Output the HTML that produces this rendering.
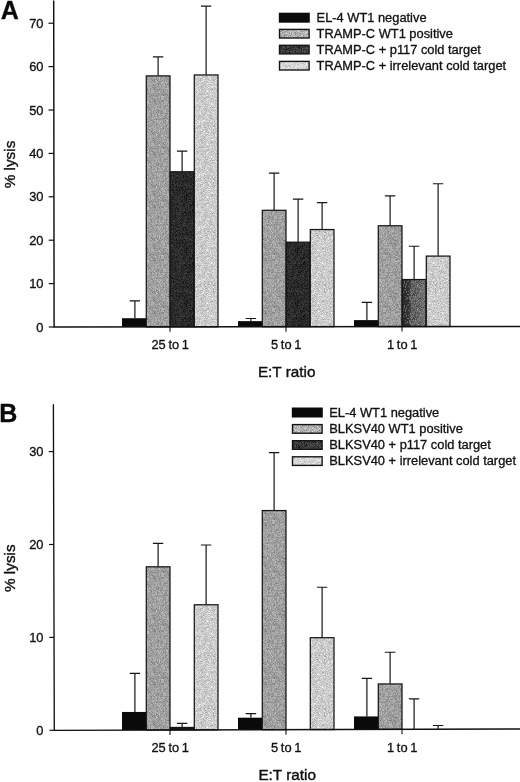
<!DOCTYPE html><html><head><meta charset="utf-8"><title>Figure</title><style>
html,body{margin:0;padding:0;background:#fff}body{width:520px;height:782px;overflow:hidden}svg{display:block;filter:grayscale(1)}
.t{font-family:"Liberation Sans",sans-serif;font-size:12.85px;fill:#111;stroke:#111;stroke-width:0.32px}
.l{font-family:"Liberation Sans",sans-serif;font-size:12.85px;fill:#111;stroke:#111;stroke-width:0.32px}
.ax{font-family:"Liberation Sans",sans-serif;font-size:15.3px;fill:#111;stroke:#111;stroke-width:0.4px}
.p{font-family:"Liberation Sans",sans-serif;font-size:25px;font-weight:bold;fill:#0a0a0a;stroke:#0a0a0a;stroke-width:0.3px}
</style></head><body>
<svg width="520" height="782" viewBox="0 0 520 782">
<defs>
<pattern id="pMid" width="37" height="53" patternUnits="userSpaceOnUse" ><rect width="37" height="53" fill="#9f9f9f"/><path stroke="#797979" d="M36 1.5h1M32 3.5h1M10 4.5h1M23 4.5h1M8 6.5h1M23 7.5h1M29 7.5h1M3 8.5h1M33 8.5h1M25 9.5h1M21 10.5h1M8 13.5h1M3 14.5h1M18 19.5h1M30 19.5h1M33 20.5h1M30 22.5h1M17 24.5h1M3 25.5h1M8 25.5h1M34 25.5h1M4 27.5h1M9 27.5h1M14 27.5h1M23 27.5h1M25 28.5h1M34 28.5h1M10 31.5h1M20 31.5h1M22 33.5h1M36 36.5h1M27 40.5h1M15 41.5h1M15 42.5h1M31 43.5h1M6 47.5h1M15 47.5h1M7 48.5h1M11 48.5h1"/><path stroke="#868686" d="M12 0.5h1M16 0.5h1M17 0.5h1M6 1.5h1M9 1.5h1M15 1.5h1M22 1.5h1M26 1.5h1M30 1.5h1M31 1.5h1M35 1.5h1M12 2.5h1M16 2.5h1M19 2.5h1M22 2.5h1M1 3.5h1M8 3.5h1M18 4.5h1M25 4.5h1M27 4.5h1M9 5.5h1M10 5.5h1M14 5.5h1M27 5.5h1M10 6.5h1M24 6.5h1M26 6.5h1M2 7.5h1M5 7.5h1M13 7.5h1M19 7.5h1M26 7.5h1M9 8.5h1M3 9.5h1M9 9.5h1M18 9.5h1M9 10.5h1M16 10.5h1M25 10.5h1M32 11.5h1M34 11.5h1M3 12.5h1M9 12.5h1M12 12.5h1M15 12.5h1M16 12.5h1M19 12.5h1M26 12.5h1M33 12.5h1M11 13.5h1M14 13.5h1M26 13.5h1M17 15.5h1M21 15.5h1M22 15.5h1M30 15.5h1M15 16.5h1M24 16.5h1M36 16.5h1M17 17.5h1M20 17.5h1M25 17.5h1M30 17.5h1M8 18.5h1M26 18.5h1M31 18.5h1M2 19.5h1M18 20.5h1M24 20.5h1M22 21.5h1M24 21.5h1M0 22.5h1M3 22.5h1M15 22.5h1M35 22.5h1M1 23.5h1M4 23.5h1M24 24.5h1M26 24.5h1M32 24.5h1M33 24.5h1M23 25.5h1M10 26.5h1M19 26.5h1M33 26.5h1M6 27.5h1M34 27.5h1M6 28.5h1M24 28.5h1M26 28.5h1M20 29.5h1M8 30.5h1M17 30.5h1M31 30.5h1M19 31.5h1M21 31.5h1M24 31.5h1M25 31.5h1M5 32.5h1M7 32.5h1M13 32.5h1M23 32.5h1M25 32.5h1M9 33.5h1M25 33.5h1M5 34.5h1M18 34.5h1M22 34.5h1M25 34.5h1M31 34.5h1M35 34.5h1M6 35.5h1M31 35.5h1M2 36.5h1M6 36.5h1M11 36.5h1M13 36.5h1M23 36.5h1M31 36.5h1M9 37.5h1M11 37.5h1M15 37.5h1M19 37.5h1M29 37.5h1M7 38.5h1M8 38.5h1M15 38.5h1M34 38.5h1M25 39.5h1M28 39.5h1M30 39.5h1M33 39.5h1M35 39.5h1M10 40.5h1M14 40.5h1M17 40.5h1M28 40.5h1M35 40.5h1M3 41.5h1M18 41.5h1M24 41.5h1M36 41.5h1M5 42.5h1M19 42.5h1M26 42.5h1M27 42.5h1M1 43.5h1M2 43.5h1M26 43.5h1M12 44.5h1M20 44.5h1M29 44.5h1M36 44.5h1M3 45.5h1M4 45.5h1M12 45.5h1M16 45.5h1M20 45.5h1M22 45.5h1M25 45.5h1M6 46.5h1M10 46.5h1M13 47.5h1M25 47.5h1M26 47.5h1M5 48.5h1M6 48.5h1M14 48.5h1M33 48.5h1M35 49.5h1M8 51.5h1M28 51.5h1M30 52.5h1"/><path stroke="#929292" d="M4 0.5h1M18 0.5h1M19 0.5h1M23 0.5h1M26 0.5h1M30 0.5h1M31 0.5h1M36 0.5h1M0 1.5h1M1 1.5h1M3 1.5h1M12 1.5h1M24 1.5h1M25 1.5h1M27 1.5h1M28 1.5h1M1 2.5h1M2 2.5h1M17 2.5h1M30 2.5h1M34 2.5h1M0 3.5h1M6 3.5h1M9 3.5h1M25 3.5h1M33 3.5h1M0 4.5h1M3 4.5h1M6 4.5h1M11 4.5h1M13 4.5h1M2 5.5h1M12 5.5h1M13 5.5h1M18 5.5h1M20 5.5h1M23 5.5h1M30 5.5h1M34 5.5h1M2 6.5h1M13 6.5h1M22 6.5h1M25 6.5h1M28 6.5h1M32 6.5h1M3 7.5h1M6 7.5h1M12 7.5h1M14 7.5h1M16 7.5h1M17 7.5h1M18 7.5h1M21 7.5h1M25 7.5h1M30 7.5h1M32 7.5h1M7 8.5h1M12 8.5h1M18 8.5h1M24 8.5h1M28 8.5h1M29 8.5h1M6 9.5h1M10 9.5h1M14 9.5h1M17 9.5h1M23 9.5h1M26 9.5h1M29 9.5h1M1 10.5h1M2 10.5h1M15 10.5h1M18 10.5h1M20 10.5h1M22 10.5h1M26 10.5h1M0 11.5h1M17 11.5h1M29 11.5h1M30 11.5h1M33 11.5h1M35 11.5h1M7 12.5h1M17 12.5h1M18 12.5h1M27 12.5h1M28 12.5h1M29 12.5h1M34 12.5h1M2 13.5h1M6 13.5h1M9 13.5h1M20 13.5h1M25 13.5h1M28 13.5h1M29 13.5h1M31 13.5h1M4 14.5h1M15 14.5h1M17 14.5h1M24 14.5h1M28 14.5h1M33 14.5h1M35 14.5h1M0 15.5h1M1 15.5h1M5 15.5h1M11 15.5h1M15 15.5h1M20 15.5h1M24 15.5h1M28 15.5h1M35 15.5h1M0 16.5h1M4 16.5h1M5 16.5h1M6 16.5h1M12 16.5h1M16 16.5h1M25 16.5h1M27 16.5h1M28 16.5h1M30 16.5h1M2 17.5h1M5 17.5h1M8 17.5h1M14 17.5h1M28 17.5h1M29 17.5h1M31 17.5h1M0 18.5h1M1 18.5h1M4 18.5h1M5 18.5h1M10 18.5h1M19 18.5h1M28 18.5h1M30 18.5h1M34 18.5h1M0 19.5h1M3 19.5h1M8 19.5h1M11 19.5h1M13 19.5h1M17 19.5h1M28 19.5h1M0 20.5h1M1 20.5h1M2 20.5h1M12 20.5h1M15 20.5h1M34 20.5h1M8 21.5h1M14 21.5h1M15 21.5h1M17 21.5h1M25 21.5h1M26 21.5h1M9 22.5h1M12 22.5h1M13 22.5h1M17 22.5h1M19 22.5h1M20 22.5h1M23 22.5h1M28 22.5h1M29 22.5h1M32 22.5h1M14 23.5h1M19 23.5h1M20 23.5h1M28 23.5h1M32 23.5h1M36 23.5h1M2 24.5h1M8 24.5h1M10 24.5h1M12 24.5h1M14 24.5h1M18 24.5h1M21 24.5h1M28 24.5h1M36 24.5h1M12 25.5h1M16 25.5h1M18 25.5h1M20 25.5h1M22 25.5h1M26 25.5h1M29 25.5h1M3 26.5h1M4 26.5h1M5 26.5h1M6 26.5h1M7 26.5h1M8 26.5h1M12 26.5h1M16 26.5h1M20 26.5h1M22 26.5h1M36 26.5h1M18 27.5h1M20 27.5h1M22 27.5h1M27 27.5h1M33 27.5h1M2 28.5h1M3 28.5h1M5 28.5h1M7 28.5h1M10 28.5h1M11 28.5h1M13 28.5h1M16 28.5h1M18 28.5h1M23 28.5h1M27 28.5h1M32 28.5h1M33 28.5h1M9 29.5h1M11 29.5h1M12 29.5h1M21 29.5h1M25 29.5h1M27 29.5h1M28 29.5h1M30 29.5h1M35 29.5h1M11 30.5h1M21 30.5h1M23 30.5h1M28 30.5h1M30 30.5h1M33 30.5h1M34 30.5h1M0 31.5h1M12 31.5h1M14 31.5h1M17 31.5h1M18 31.5h1M23 31.5h1M27 31.5h1M4 32.5h1M6 32.5h1M10 32.5h1M17 32.5h1M24 32.5h1M26 32.5h1M27 32.5h1M31 32.5h1M32 32.5h1M1 33.5h1M6 33.5h1M11 33.5h1M13 33.5h1M18 33.5h1M29 33.5h1M36 33.5h1M4 34.5h1M6 34.5h1M7 34.5h1M8 34.5h1M17 34.5h1M26 34.5h1M30 34.5h1M2 35.5h1M5 35.5h1M11 35.5h1M24 35.5h1M34 35.5h1M35 35.5h1M36 35.5h1M5 36.5h1M7 36.5h1M8 36.5h1M15 36.5h1M16 36.5h1M17 36.5h1M18 36.5h1M24 36.5h1M25 36.5h1M26 36.5h1M28 36.5h1M29 36.5h1M30 36.5h1M35 36.5h1M6 37.5h1M14 37.5h1M31 37.5h1M36 37.5h1M2 38.5h1M12 38.5h1M16 38.5h1M18 38.5h1M21 38.5h1M23 38.5h1M24 38.5h1M26 38.5h1M36 38.5h1M0 39.5h1M2 39.5h1M6 39.5h1M13 39.5h1M14 39.5h1M22 39.5h1M26 39.5h1M27 39.5h1M0 40.5h1M6 40.5h1M8 40.5h1M11 40.5h1M16 40.5h1M18 40.5h1M22 40.5h1M23 40.5h1M26 40.5h1M30 40.5h1M36 40.5h1M1 41.5h1M7 41.5h1M10 41.5h1M12 41.5h1M13 41.5h1M17 41.5h1M19 41.5h1M23 41.5h1M28 41.5h1M34 41.5h1M35 41.5h1M1 42.5h1M2 42.5h1M3 42.5h1M4 42.5h1M7 42.5h1M8 42.5h1M9 42.5h1M11 42.5h1M16 42.5h1M17 42.5h1M20 42.5h1M24 42.5h1M33 42.5h1M35 42.5h1M7 43.5h1M8 43.5h1M20 43.5h1M22 43.5h1M25 43.5h1M29 43.5h1M30 43.5h1M4 44.5h1M10 44.5h1M16 44.5h1M18 44.5h1M19 44.5h1M23 44.5h1M24 44.5h1M28 44.5h1M30 44.5h1M34 44.5h1M35 44.5h1M1 45.5h1M6 45.5h1M9 45.5h1M17 45.5h1M21 45.5h1M26 45.5h1M31 45.5h1M32 45.5h1M33 45.5h1M1 46.5h1M5 46.5h1M7 46.5h1M9 46.5h1M16 46.5h1M18 46.5h1M27 46.5h1M28 46.5h1M29 46.5h1M35 46.5h1M36 46.5h1M2 47.5h1M4 47.5h1M14 47.5h1M19 47.5h1M20 47.5h1M27 47.5h1M28 47.5h1M29 47.5h1M32 47.5h1M1 48.5h1M13 48.5h1M15 48.5h1M20 48.5h1M27 48.5h1M2 49.5h1M3 49.5h1M6 49.5h1M12 49.5h1M20 49.5h1M23 49.5h1M30 49.5h1M31 49.5h1M7 50.5h1M11 50.5h1M15 50.5h1M20 50.5h1M25 50.5h1M28 50.5h1M29 50.5h1M32 50.5h1M33 50.5h1M35 50.5h1M2 51.5h1M6 51.5h1M12 51.5h1M14 51.5h1M19 51.5h1M23 51.5h1M29 51.5h1M31 51.5h1M0 52.5h1M13 52.5h1M16 52.5h1M17 52.5h1M19 52.5h1M21 52.5h1M24 52.5h1M28 52.5h1M31 52.5h1M35 52.5h1"/><path stroke="#ababab" d="M1 0.5h1M6 0.5h1M7 0.5h1M8 0.5h1M13 0.5h1M14 0.5h1M15 0.5h1M22 0.5h1M28 0.5h1M29 0.5h1M34 0.5h1M2 1.5h1M5 1.5h1M13 1.5h1M16 1.5h1M17 1.5h1M18 1.5h1M23 1.5h1M34 1.5h1M3 2.5h1M4 2.5h1M7 2.5h1M9 2.5h1M10 2.5h1M11 2.5h1M14 2.5h1M15 2.5h1M18 2.5h1M21 2.5h1M24 2.5h1M27 2.5h1M29 2.5h1M32 2.5h1M35 2.5h1M10 3.5h1M11 3.5h1M12 3.5h1M16 3.5h1M19 3.5h1M21 3.5h1M22 3.5h1M28 3.5h1M1 4.5h1M12 4.5h1M15 4.5h1M16 4.5h1M21 4.5h1M22 4.5h1M24 4.5h1M26 4.5h1M29 4.5h1M32 4.5h1M36 4.5h1M3 5.5h1M6 5.5h1M8 5.5h1M11 5.5h1M16 5.5h1M21 5.5h1M25 5.5h1M35 5.5h1M3 6.5h1M11 6.5h1M15 6.5h1M19 6.5h1M23 6.5h1M27 6.5h1M36 6.5h1M0 7.5h1M4 7.5h1M7 7.5h1M8 7.5h1M10 7.5h1M15 7.5h1M27 7.5h1M33 7.5h1M34 7.5h1M35 7.5h1M1 8.5h1M2 8.5h1M4 8.5h1M10 8.5h1M13 8.5h1M16 8.5h1M17 8.5h1M21 8.5h1M26 8.5h1M31 8.5h1M32 8.5h1M34 8.5h1M35 8.5h1M0 9.5h1M2 9.5h1M4 9.5h1M16 9.5h1M20 9.5h1M22 9.5h1M28 9.5h1M31 9.5h1M33 9.5h1M36 9.5h1M10 10.5h1M11 10.5h1M12 10.5h1M14 10.5h1M19 10.5h1M27 10.5h1M28 10.5h1M31 10.5h1M33 10.5h1M35 10.5h1M36 10.5h1M2 11.5h1M4 11.5h1M5 11.5h1M6 11.5h1M9 11.5h1M14 11.5h1M15 11.5h1M20 11.5h1M21 11.5h1M23 11.5h1M24 11.5h1M28 11.5h1M36 11.5h1M0 12.5h1M5 12.5h1M6 12.5h1M10 12.5h1M11 12.5h1M14 12.5h1M22 12.5h1M23 12.5h1M25 12.5h1M32 12.5h1M3 13.5h1M17 13.5h1M18 13.5h1M23 13.5h1M33 13.5h1M0 14.5h1M2 14.5h1M6 14.5h1M10 14.5h1M11 14.5h1M12 14.5h1M14 14.5h1M16 14.5h1M22 14.5h1M26 14.5h1M27 14.5h1M36 14.5h1M2 15.5h1M6 15.5h1M10 15.5h1M14 15.5h1M23 15.5h1M33 15.5h1M2 16.5h1M9 16.5h1M10 16.5h1M23 16.5h1M29 16.5h1M31 16.5h1M32 16.5h1M34 16.5h1M1 17.5h1M4 17.5h1M6 17.5h1M13 17.5h1M19 17.5h1M21 17.5h1M23 17.5h1M34 17.5h1M2 18.5h1M3 18.5h1M11 18.5h1M15 18.5h1M18 18.5h1M21 18.5h1M35 18.5h1M1 19.5h1M5 19.5h1M16 19.5h1M19 19.5h1M20 19.5h1M21 19.5h1M25 19.5h1M31 19.5h1M33 19.5h1M3 20.5h1M7 20.5h1M8 20.5h1M10 20.5h1M14 20.5h1M16 20.5h1M21 20.5h1M25 20.5h1M30 20.5h1M35 20.5h1M4 21.5h1M7 21.5h1M12 21.5h1M16 21.5h1M18 21.5h1M19 21.5h1M21 21.5h1M23 21.5h1M28 21.5h1M31 21.5h1M35 21.5h1M5 22.5h1M6 22.5h1M7 22.5h1M11 22.5h1M18 22.5h1M25 22.5h1M26 22.5h1M34 22.5h1M36 22.5h1M3 23.5h1M5 23.5h1M7 23.5h1M8 23.5h1M11 23.5h1M13 23.5h1M17 23.5h1M22 23.5h1M23 23.5h1M24 23.5h1M29 23.5h1M34 23.5h1M0 24.5h1M3 24.5h1M6 24.5h1M9 24.5h1M13 24.5h1M15 24.5h1M19 24.5h1M25 24.5h1M27 24.5h1M34 24.5h1M35 24.5h1M0 25.5h1M1 25.5h1M2 25.5h1M5 25.5h1M6 25.5h1M7 25.5h1M10 25.5h1M15 25.5h1M17 25.5h1M24 25.5h1M28 25.5h1M31 25.5h1M32 25.5h1M35 25.5h1M9 26.5h1M11 26.5h1M24 26.5h1M25 26.5h1M26 26.5h1M27 26.5h1M1 27.5h1M7 27.5h1M11 27.5h1M13 27.5h1M15 27.5h1M19 27.5h1M26 27.5h1M29 27.5h1M31 27.5h1M35 27.5h1M0 28.5h1M1 28.5h1M4 28.5h1M30 28.5h1M36 28.5h1M0 29.5h1M3 29.5h1M5 29.5h1M6 29.5h1M16 29.5h1M17 29.5h1M18 29.5h1M19 29.5h1M22 29.5h1M33 29.5h1M1 30.5h1M4 30.5h1M6 30.5h1M13 30.5h1M15 30.5h1M25 30.5h1M3 31.5h1M8 31.5h1M13 31.5h1M26 31.5h1M32 31.5h1M1 32.5h1M8 32.5h1M9 32.5h1M12 32.5h1M15 32.5h1M18 32.5h1M19 32.5h1M22 32.5h1M33 32.5h1M34 32.5h1M2 33.5h1M3 33.5h1M5 33.5h1M7 33.5h1M10 33.5h1M19 33.5h1M23 33.5h1M27 33.5h1M28 33.5h1M34 33.5h1M0 34.5h1M1 34.5h1M3 34.5h1M9 34.5h1M15 34.5h1M16 34.5h1M21 34.5h1M27 34.5h1M28 34.5h1M32 34.5h1M33 34.5h1M36 34.5h1M0 35.5h1M1 35.5h1M4 35.5h1M8 35.5h1M10 35.5h1M14 35.5h1M19 35.5h1M20 35.5h1M25 35.5h1M27 35.5h1M28 35.5h1M32 35.5h1M0 36.5h1M1 36.5h1M3 36.5h1M4 36.5h1M14 36.5h1M20 36.5h1M21 36.5h1M27 36.5h1M32 36.5h1M1 37.5h1M3 37.5h1M5 37.5h1M7 37.5h1M8 37.5h1M13 37.5h1M20 37.5h1M26 37.5h1M27 37.5h1M30 37.5h1M32 37.5h1M35 37.5h1M3 38.5h1M4 38.5h1M6 38.5h1M13 38.5h1M14 38.5h1M20 38.5h1M22 38.5h1M25 38.5h1M31 38.5h1M33 38.5h1M35 38.5h1M4 39.5h1M7 39.5h1M15 39.5h1M20 39.5h1M23 39.5h1M29 39.5h1M31 39.5h1M36 39.5h1M3 40.5h1M19 40.5h1M2 41.5h1M6 41.5h1M8 41.5h1M11 41.5h1M20 41.5h1M27 41.5h1M29 41.5h1M31 41.5h1M33 41.5h1M0 42.5h1M18 42.5h1M23 42.5h1M25 42.5h1M28 42.5h1M29 42.5h1M30 42.5h1M32 42.5h1M34 42.5h1M36 42.5h1M3 43.5h1M16 43.5h1M24 43.5h1M32 43.5h1M6 44.5h1M11 44.5h1M13 44.5h1M14 44.5h1M17 44.5h1M21 44.5h1M27 44.5h1M31 44.5h1M0 45.5h1M2 45.5h1M7 45.5h1M10 45.5h1M11 45.5h1M14 45.5h1M15 45.5h1M19 45.5h1M27 45.5h1M29 45.5h1M3 46.5h1M8 46.5h1M13 46.5h1M14 46.5h1M17 46.5h1M19 46.5h1M22 46.5h1M24 46.5h1M25 46.5h1M33 46.5h1M34 46.5h1M5 47.5h1M10 47.5h1M16 47.5h1M36 47.5h1M8 48.5h1M16 48.5h1M17 48.5h1M19 48.5h1M23 48.5h1M29 48.5h1M30 48.5h1M34 48.5h1M35 48.5h1M1 49.5h1M5 49.5h1M13 49.5h1M16 49.5h1M17 49.5h1M18 49.5h1M19 49.5h1M21 49.5h1M22 49.5h1M28 49.5h1M34 49.5h1M2 50.5h1M3 50.5h1M14 50.5h1M16 50.5h1M17 50.5h1M18 50.5h1M22 50.5h1M31 50.5h1M34 50.5h1M7 51.5h1M11 51.5h1M13 51.5h1M15 51.5h1M18 51.5h1M20 51.5h1M21 51.5h1M25 51.5h1M26 51.5h1M27 51.5h1M32 51.5h1M34 51.5h1M35 51.5h1M4 52.5h1M7 52.5h1M10 52.5h1M20 52.5h1M22 52.5h1M27 52.5h1M32 52.5h1M33 52.5h1M36 52.5h1"/><path stroke="#b8b8b8" d="M27 0.5h1M8 1.5h1M19 1.5h1M29 1.5h1M33 1.5h1M8 2.5h1M13 2.5h1M23 2.5h1M36 2.5h1M5 3.5h1M7 3.5h1M23 3.5h1M31 3.5h1M17 4.5h1M35 4.5h1M15 5.5h1M17 5.5h1M22 5.5h1M24 5.5h1M28 5.5h1M33 5.5h1M36 5.5h1M0 6.5h1M6 6.5h1M17 6.5h1M20 6.5h1M21 6.5h1M34 6.5h1M0 8.5h1M5 8.5h1M8 8.5h1M14 8.5h1M36 8.5h1M7 9.5h1M8 9.5h1M19 9.5h1M21 9.5h1M23 10.5h1M30 10.5h1M34 10.5h1M4 12.5h1M24 12.5h1M9 14.5h1M29 14.5h1M30 14.5h1M34 14.5h1M3 15.5h1M9 15.5h1M18 15.5h1M19 15.5h1M1 16.5h1M7 17.5h1M11 17.5h1M18 17.5h1M27 17.5h1M33 17.5h1M16 18.5h1M22 18.5h1M10 19.5h1M27 19.5h1M13 20.5h1M19 20.5h1M36 20.5h1M2 21.5h1M5 21.5h1M32 21.5h1M27 22.5h1M31 22.5h1M9 23.5h1M16 23.5h1M26 23.5h1M7 24.5h1M30 24.5h1M14 26.5h1M3 27.5h1M32 27.5h1M36 27.5h1M9 28.5h1M14 28.5h1M17 28.5h1M8 29.5h1M13 29.5h1M14 29.5h1M23 29.5h1M29 29.5h1M0 30.5h1M2 30.5h1M7 30.5h1M14 30.5h1M18 30.5h1M29 30.5h1M2 31.5h1M30 31.5h1M31 31.5h1M35 31.5h1M36 31.5h1M11 32.5h1M14 32.5h1M16 32.5h1M0 33.5h1M12 33.5h1M30 33.5h1M2 34.5h1M19 34.5h1M29 34.5h1M15 35.5h1M17 35.5h1M18 35.5h1M21 35.5h1M26 35.5h1M19 36.5h1M33 36.5h1M4 37.5h1M16 37.5h1M18 37.5h1M21 37.5h1M22 37.5h1M34 37.5h1M1 38.5h1M5 38.5h1M28 38.5h1M1 39.5h1M3 39.5h1M5 39.5h1M8 39.5h1M18 39.5h1M21 39.5h1M24 39.5h1M32 39.5h1M12 40.5h1M24 40.5h1M0 41.5h1M22 41.5h1M25 41.5h1M11 43.5h1M13 43.5h1M14 43.5h1M15 43.5h1M23 43.5h1M0 44.5h1M5 44.5h1M7 44.5h1M15 44.5h1M22 44.5h1M32 44.5h1M13 45.5h1M28 45.5h1M36 45.5h1M2 46.5h1M15 46.5h1M3 47.5h1M21 47.5h1M22 47.5h1M24 47.5h1M0 48.5h1M32 48.5h1M36 48.5h1M0 49.5h1M14 49.5h1M24 49.5h1M26 49.5h1M27 49.5h1M23 50.5h1M16 51.5h1M30 51.5h1M33 51.5h1M9 52.5h1M14 52.5h1"/><path stroke="#c4c4c4" d="M4 4.5h1M1 5.5h1M11 8.5h1M30 8.5h1M15 9.5h1M8 11.5h1M12 11.5h1M35 13.5h1M7 14.5h1M19 14.5h1M12 15.5h1M11 16.5h1M14 16.5h1M36 17.5h1M12 19.5h1M22 19.5h1M34 19.5h1M13 21.5h1M1 22.5h1M2 22.5h1M11 24.5h1M16 24.5h1M22 24.5h1M11 25.5h1M8 27.5h1M8 28.5h1M32 29.5h1M16 31.5h1M32 33.5h1M11 38.5h1M11 39.5h1M29 40.5h1M34 43.5h1M26 44.5h1M32 46.5h1M31 47.5h1M28 48.5h1M31 48.5h1M25 49.5h1M36 49.5h1M0 50.5h1"/></pattern>
<pattern id="pDark" width="37" height="53" patternUnits="userSpaceOnUse" ><rect width="37" height="53" fill="#2a2a2a"/><path stroke="#0c0c0c" d="M0 0.5h1M11 0.5h1M6 1.5h1M16 3.5h1M19 4.5h1M17 5.5h1M9 6.5h1M2 7.5h1M16 7.5h1M29 14.5h1M2 18.5h1M28 19.5h1M1 20.5h1M16 21.5h1M2 22.5h1M21 23.5h1M24 23.5h1M10 24.5h1M18 25.5h1M33 25.5h1M23 27.5h1M28 27.5h1M21 28.5h1M34 29.5h1M26 33.5h1M16 34.5h1M1 35.5h1M1 36.5h1M18 37.5h1M36 38.5h1M1 40.5h1M3 42.5h1M22 46.5h1M8 49.5h1M23 49.5h1"/><path stroke="#161616" d="M5 0.5h1M14 0.5h1M16 0.5h1M36 0.5h1M34 1.5h1M27 2.5h1M0 3.5h1M1 3.5h1M5 3.5h1M9 3.5h1M15 3.5h1M21 3.5h1M33 3.5h1M8 4.5h1M11 4.5h1M27 4.5h1M35 4.5h1M2 5.5h1M6 5.5h1M28 5.5h1M32 5.5h1M5 6.5h1M19 6.5h1M21 6.5h1M3 7.5h1M4 7.5h1M14 7.5h1M15 7.5h1M24 7.5h1M17 8.5h1M23 8.5h1M33 9.5h1M3 10.5h1M14 10.5h1M29 10.5h1M34 10.5h1M13 11.5h1M21 11.5h1M33 11.5h1M10 12.5h1M23 12.5h1M30 12.5h1M24 13.5h1M25 13.5h1M0 14.5h1M4 14.5h1M11 14.5h1M15 14.5h1M18 14.5h1M20 14.5h1M1 15.5h1M11 15.5h1M25 15.5h1M25 16.5h1M35 16.5h1M0 17.5h1M35 17.5h1M7 18.5h1M30 18.5h1M35 18.5h1M20 19.5h1M5 20.5h1M14 20.5h1M27 20.5h1M9 21.5h1M17 21.5h1M20 21.5h1M34 21.5h1M6 22.5h1M8 23.5h1M10 23.5h1M17 23.5h1M28 23.5h1M27 24.5h1M31 24.5h1M5 25.5h1M15 25.5h1M24 25.5h1M12 26.5h1M19 27.5h1M36 27.5h1M0 28.5h1M8 28.5h1M22 28.5h1M29 28.5h1M2 29.5h1M16 29.5h1M19 29.5h1M22 29.5h1M1 30.5h1M23 30.5h1M24 30.5h1M28 30.5h1M24 31.5h1M28 31.5h1M31 31.5h1M0 32.5h1M8 32.5h1M36 32.5h1M25 33.5h1M28 33.5h1M6 34.5h1M17 34.5h1M17 35.5h1M26 35.5h1M2 36.5h1M3 36.5h1M17 36.5h1M22 37.5h1M24 37.5h1M1 38.5h1M29 38.5h1M1 39.5h1M5 39.5h1M15 39.5h1M19 39.5h1M23 39.5h1M4 40.5h1M5 40.5h1M8 40.5h1M14 40.5h1M18 40.5h1M1 41.5h1M12 41.5h1M13 41.5h1M26 41.5h1M34 41.5h1M9 42.5h1M13 42.5h1M19 42.5h1M33 42.5h1M7 43.5h1M8 43.5h1M11 43.5h1M14 43.5h1M7 44.5h1M10 44.5h1M15 44.5h1M19 44.5h1M29 44.5h1M36 44.5h1M0 45.5h1M4 45.5h1M5 45.5h1M21 45.5h1M26 45.5h1M35 45.5h1M4 46.5h1M6 46.5h1M8 46.5h1M12 46.5h1M15 46.5h1M35 46.5h1M24 47.5h1M36 47.5h1M15 48.5h1M22 48.5h1M28 48.5h1M0 49.5h1M12 49.5h1M29 49.5h1M0 50.5h1M7 50.5h1M8 50.5h1M9 50.5h1M19 50.5h1M30 50.5h1M7 51.5h1M0 52.5h1M3 52.5h1M5 52.5h1M7 52.5h1M18 52.5h1M30 52.5h1"/><path stroke="#202020" d="M1 0.5h1M4 0.5h1M8 0.5h1M20 0.5h1M23 0.5h1M24 0.5h1M27 0.5h1M34 0.5h1M2 1.5h1M3 1.5h1M5 1.5h1M7 1.5h1M8 1.5h1M9 1.5h1M10 1.5h1M14 1.5h1M22 1.5h1M33 1.5h1M35 1.5h1M1 2.5h1M3 2.5h1M4 2.5h1M9 2.5h1M14 2.5h1M15 2.5h1M17 2.5h1M19 2.5h1M24 2.5h1M35 2.5h1M3 3.5h1M7 3.5h1M18 3.5h1M19 3.5h1M22 3.5h1M23 3.5h1M24 3.5h1M27 3.5h1M28 3.5h1M30 3.5h1M34 3.5h1M6 4.5h1M15 4.5h1M16 4.5h1M18 4.5h1M20 4.5h1M21 4.5h1M24 4.5h1M25 4.5h1M29 4.5h1M30 4.5h1M33 4.5h1M36 4.5h1M12 5.5h1M15 5.5h1M19 5.5h1M22 5.5h1M26 5.5h1M27 5.5h1M34 5.5h1M2 6.5h1M4 6.5h1M10 6.5h1M11 6.5h1M12 6.5h1M16 6.5h1M22 6.5h1M26 6.5h1M28 6.5h1M33 6.5h1M34 6.5h1M35 6.5h1M9 7.5h1M10 7.5h1M13 7.5h1M21 7.5h1M22 7.5h1M32 7.5h1M34 7.5h1M3 8.5h1M9 8.5h1M10 8.5h1M16 8.5h1M20 8.5h1M21 8.5h1M27 8.5h1M29 8.5h1M32 8.5h1M34 8.5h1M35 8.5h1M0 9.5h1M1 9.5h1M4 9.5h1M8 9.5h1M10 9.5h1M16 9.5h1M20 9.5h1M31 9.5h1M1 10.5h1M2 10.5h1M6 10.5h1M8 10.5h1M9 10.5h1M10 10.5h1M24 10.5h1M26 10.5h1M28 10.5h1M1 11.5h1M9 11.5h1M11 11.5h1M19 11.5h1M22 11.5h1M23 11.5h1M26 11.5h1M32 11.5h1M1 12.5h1M5 12.5h1M13 12.5h1M17 12.5h1M21 12.5h1M24 12.5h1M27 12.5h1M28 12.5h1M33 12.5h1M2 13.5h1M4 13.5h1M18 13.5h1M23 13.5h1M26 13.5h1M27 13.5h1M33 13.5h1M8 14.5h1M9 14.5h1M16 14.5h1M21 14.5h1M28 14.5h1M33 14.5h1M3 15.5h1M6 15.5h1M8 15.5h1M10 15.5h1M16 15.5h1M20 15.5h1M30 15.5h1M31 15.5h1M36 15.5h1M0 16.5h1M1 16.5h1M5 16.5h1M6 16.5h1M9 16.5h1M11 16.5h1M13 16.5h1M18 16.5h1M23 16.5h1M1 17.5h1M3 17.5h1M8 17.5h1M13 17.5h1M23 17.5h1M25 17.5h1M27 17.5h1M29 17.5h1M32 17.5h1M34 17.5h1M8 18.5h1M12 18.5h1M16 18.5h1M28 18.5h1M29 18.5h1M4 19.5h1M5 19.5h1M6 19.5h1M9 19.5h1M11 19.5h1M22 19.5h1M33 19.5h1M2 20.5h1M6 20.5h1M8 20.5h1M9 20.5h1M10 20.5h1M11 20.5h1M16 20.5h1M17 20.5h1M20 20.5h1M21 20.5h1M22 20.5h1M23 20.5h1M29 20.5h1M0 21.5h1M2 21.5h1M13 21.5h1M18 21.5h1M25 21.5h1M31 21.5h1M32 21.5h1M35 21.5h1M0 22.5h1M12 22.5h1M15 22.5h1M17 22.5h1M18 22.5h1M20 22.5h1M25 22.5h1M27 22.5h1M28 22.5h1M32 22.5h1M35 22.5h1M36 22.5h1M5 23.5h1M7 23.5h1M11 23.5h1M12 23.5h1M13 23.5h1M15 23.5h1M19 23.5h1M22 23.5h1M31 23.5h1M35 23.5h1M3 24.5h1M14 24.5h1M17 24.5h1M18 24.5h1M20 24.5h1M21 24.5h1M34 24.5h1M6 25.5h1M13 25.5h1M22 25.5h1M23 25.5h1M25 25.5h1M28 25.5h1M31 25.5h1M9 26.5h1M11 26.5h1M19 26.5h1M21 26.5h1M25 26.5h1M35 26.5h1M0 27.5h1M3 27.5h1M7 27.5h1M14 27.5h1M18 27.5h1M20 27.5h1M22 27.5h1M25 27.5h1M26 27.5h1M30 27.5h1M32 27.5h1M3 28.5h1M12 28.5h1M13 28.5h1M14 28.5h1M15 28.5h1M20 28.5h1M26 28.5h1M28 28.5h1M32 28.5h1M33 28.5h1M34 28.5h1M4 29.5h1M9 29.5h1M10 29.5h1M13 29.5h1M25 29.5h1M31 29.5h1M0 30.5h1M4 30.5h1M6 30.5h1M7 30.5h1M9 30.5h1M18 30.5h1M31 30.5h1M34 30.5h1M35 30.5h1M1 31.5h1M2 31.5h1M8 31.5h1M13 31.5h1M14 31.5h1M17 31.5h1M20 31.5h1M23 31.5h1M26 31.5h1M30 31.5h1M34 31.5h1M35 31.5h1M12 32.5h1M15 32.5h1M21 32.5h1M30 32.5h1M31 32.5h1M1 33.5h1M4 33.5h1M6 33.5h1M8 33.5h1M9 33.5h1M11 33.5h1M13 33.5h1M16 33.5h1M18 33.5h1M36 33.5h1M2 34.5h1M4 34.5h1M5 34.5h1M10 34.5h1M22 34.5h1M29 34.5h1M30 34.5h1M31 34.5h1M34 34.5h1M36 34.5h1M4 35.5h1M11 35.5h1M13 35.5h1M15 35.5h1M19 35.5h1M23 35.5h1M28 35.5h1M29 35.5h1M35 35.5h1M7 36.5h1M15 36.5h1M18 36.5h1M19 36.5h1M20 36.5h1M27 36.5h1M30 36.5h1M33 36.5h1M36 36.5h1M4 37.5h1M10 37.5h1M25 37.5h1M32 37.5h1M36 37.5h1M2 38.5h1M9 38.5h1M10 38.5h1M12 38.5h1M14 38.5h1M24 38.5h1M33 38.5h1M13 39.5h1M17 39.5h1M20 39.5h1M21 39.5h1M25 39.5h1M36 39.5h1M3 40.5h1M10 40.5h1M13 40.5h1M15 40.5h1M24 40.5h1M25 40.5h1M26 40.5h1M29 40.5h1M31 40.5h1M32 40.5h1M36 40.5h1M0 41.5h1M14 41.5h1M21 41.5h1M33 41.5h1M0 42.5h1M5 42.5h1M7 42.5h1M8 42.5h1M12 42.5h1M17 42.5h1M18 42.5h1M22 42.5h1M28 42.5h1M35 42.5h1M36 42.5h1M1 43.5h1M2 43.5h1M15 43.5h1M17 43.5h1M23 43.5h1M29 43.5h1M34 43.5h1M1 44.5h1M9 44.5h1M14 44.5h1M16 44.5h1M18 44.5h1M21 44.5h1M23 44.5h1M24 44.5h1M28 44.5h1M6 45.5h1M7 45.5h1M9 45.5h1M11 45.5h1M12 45.5h1M15 45.5h1M18 45.5h1M20 45.5h1M28 45.5h1M29 45.5h1M30 45.5h1M2 46.5h1M7 46.5h1M16 46.5h1M21 46.5h1M24 46.5h1M28 46.5h1M36 46.5h1M4 47.5h1M5 47.5h1M6 47.5h1M13 47.5h1M20 47.5h1M21 47.5h1M22 47.5h1M23 47.5h1M34 47.5h1M2 48.5h1M5 48.5h1M9 48.5h1M16 48.5h1M20 48.5h1M3 49.5h1M11 49.5h1M16 49.5h1M17 49.5h1M22 49.5h1M27 49.5h1M4 50.5h1M14 50.5h1M21 50.5h1M22 50.5h1M27 50.5h1M29 50.5h1M34 50.5h1M8 51.5h1M9 51.5h1M21 51.5h1M27 51.5h1M4 52.5h1M8 52.5h1M11 52.5h1M19 52.5h1M22 52.5h1M23 52.5h1M33 52.5h1M36 52.5h1"/><path stroke="#343434" d="M2 0.5h1M3 0.5h1M10 0.5h1M12 0.5h1M13 0.5h1M15 0.5h1M17 0.5h1M22 0.5h1M28 0.5h1M29 0.5h1M35 0.5h1M12 1.5h1M16 1.5h1M17 1.5h1M18 1.5h1M21 1.5h1M27 1.5h1M29 1.5h1M30 1.5h1M31 1.5h1M32 1.5h1M36 1.5h1M6 2.5h1M8 2.5h1M10 2.5h1M11 2.5h1M13 2.5h1M23 2.5h1M25 2.5h1M28 2.5h1M29 2.5h1M30 2.5h1M33 2.5h1M34 2.5h1M36 2.5h1M2 3.5h1M10 3.5h1M20 3.5h1M29 3.5h1M31 3.5h1M32 3.5h1M0 4.5h1M1 4.5h1M2 4.5h1M5 4.5h1M7 4.5h1M9 4.5h1M12 4.5h1M26 4.5h1M31 4.5h1M32 4.5h1M34 4.5h1M0 5.5h1M3 5.5h1M4 5.5h1M8 5.5h1M9 5.5h1M14 5.5h1M18 5.5h1M20 5.5h1M21 5.5h1M25 5.5h1M33 5.5h1M36 5.5h1M1 6.5h1M13 6.5h1M17 6.5h1M30 6.5h1M1 7.5h1M5 7.5h1M19 7.5h1M27 7.5h1M29 7.5h1M30 7.5h1M4 8.5h1M6 8.5h1M11 8.5h1M13 8.5h1M14 8.5h1M18 8.5h1M25 8.5h1M33 8.5h1M36 8.5h1M9 9.5h1M14 9.5h1M18 9.5h1M19 9.5h1M21 9.5h1M25 9.5h1M26 9.5h1M27 9.5h1M29 9.5h1M34 9.5h1M35 9.5h1M4 10.5h1M7 10.5h1M18 10.5h1M20 10.5h1M21 10.5h1M25 10.5h1M30 10.5h1M33 10.5h1M0 11.5h1M2 11.5h1M5 11.5h1M6 11.5h1M15 11.5h1M16 11.5h1M25 11.5h1M27 11.5h1M28 11.5h1M3 12.5h1M8 12.5h1M12 12.5h1M15 12.5h1M19 12.5h1M20 12.5h1M25 12.5h1M31 12.5h1M32 12.5h1M34 12.5h1M35 12.5h1M0 13.5h1M5 13.5h1M7 13.5h1M13 13.5h1M16 13.5h1M17 13.5h1M29 13.5h1M32 13.5h1M34 13.5h1M1 14.5h1M3 14.5h1M6 14.5h1M10 14.5h1M17 14.5h1M23 14.5h1M24 14.5h1M30 14.5h1M0 15.5h1M9 15.5h1M12 15.5h1M15 15.5h1M21 15.5h1M33 15.5h1M34 15.5h1M3 16.5h1M8 16.5h1M10 16.5h1M12 16.5h1M15 16.5h1M17 16.5h1M22 16.5h1M29 16.5h1M30 16.5h1M36 16.5h1M7 17.5h1M10 17.5h1M17 17.5h1M21 17.5h1M24 17.5h1M26 17.5h1M30 17.5h1M36 17.5h1M0 18.5h1M14 18.5h1M15 18.5h1M20 18.5h1M21 18.5h1M22 18.5h1M27 18.5h1M34 18.5h1M2 19.5h1M8 19.5h1M10 19.5h1M12 19.5h1M14 19.5h1M18 19.5h1M19 19.5h1M23 19.5h1M29 19.5h1M30 19.5h1M35 19.5h1M7 20.5h1M12 20.5h1M13 20.5h1M25 20.5h1M32 20.5h1M34 20.5h1M7 21.5h1M10 21.5h1M12 21.5h1M14 21.5h1M21 21.5h1M22 21.5h1M23 21.5h1M24 21.5h1M29 21.5h1M5 22.5h1M8 22.5h1M9 22.5h1M10 22.5h1M11 22.5h1M13 22.5h1M21 22.5h1M26 22.5h1M31 22.5h1M3 23.5h1M32 23.5h1M36 23.5h1M1 24.5h1M2 24.5h1M5 24.5h1M8 24.5h1M15 24.5h1M24 24.5h1M26 24.5h1M28 24.5h1M29 24.5h1M30 24.5h1M32 24.5h1M36 24.5h1M1 25.5h1M3 25.5h1M10 25.5h1M12 25.5h1M17 25.5h1M20 25.5h1M26 25.5h1M3 26.5h1M5 26.5h1M27 26.5h1M28 26.5h1M29 26.5h1M30 26.5h1M31 26.5h1M33 26.5h1M1 27.5h1M2 27.5h1M4 27.5h1M6 27.5h1M9 27.5h1M12 27.5h1M15 27.5h1M24 27.5h1M27 27.5h1M31 27.5h1M4 28.5h1M6 28.5h1M7 28.5h1M19 28.5h1M7 29.5h1M8 29.5h1M14 29.5h1M18 29.5h1M26 29.5h1M27 29.5h1M28 29.5h1M29 29.5h1M10 30.5h1M14 30.5h1M15 30.5h1M20 30.5h1M26 30.5h1M36 30.5h1M3 31.5h1M4 31.5h1M9 31.5h1M22 31.5h1M27 31.5h1M1 32.5h1M2 32.5h1M4 32.5h1M10 32.5h1M14 32.5h1M16 32.5h1M22 32.5h1M26 32.5h1M28 32.5h1M29 32.5h1M33 32.5h1M35 32.5h1M0 33.5h1M12 33.5h1M14 33.5h1M24 33.5h1M27 33.5h1M29 33.5h1M30 33.5h1M1 34.5h1M8 34.5h1M11 34.5h1M15 34.5h1M18 34.5h1M24 34.5h1M26 34.5h1M28 34.5h1M33 34.5h1M0 35.5h1M5 35.5h1M7 35.5h1M8 35.5h1M9 35.5h1M18 35.5h1M21 35.5h1M30 35.5h1M8 36.5h1M11 36.5h1M21 36.5h1M23 36.5h1M24 36.5h1M25 36.5h1M26 36.5h1M28 36.5h1M31 36.5h1M35 36.5h1M6 37.5h1M7 37.5h1M8 37.5h1M9 37.5h1M13 37.5h1M15 37.5h1M28 37.5h1M29 37.5h1M30 37.5h1M17 38.5h1M26 38.5h1M28 38.5h1M2 39.5h1M4 39.5h1M7 39.5h1M9 39.5h1M14 39.5h1M18 39.5h1M22 39.5h1M24 39.5h1M26 39.5h1M28 39.5h1M35 39.5h1M6 40.5h1M16 40.5h1M17 40.5h1M19 40.5h1M21 40.5h1M28 40.5h1M33 40.5h1M34 40.5h1M2 41.5h1M3 41.5h1M5 41.5h1M7 41.5h1M8 41.5h1M15 41.5h1M16 41.5h1M18 41.5h1M24 41.5h1M27 41.5h1M29 41.5h1M30 41.5h1M31 41.5h1M32 41.5h1M36 41.5h1M1 42.5h1M2 42.5h1M4 42.5h1M6 42.5h1M11 42.5h1M16 42.5h1M20 42.5h1M26 42.5h1M29 42.5h1M30 42.5h1M34 42.5h1M6 43.5h1M13 43.5h1M18 43.5h1M19 43.5h1M20 43.5h1M27 43.5h1M31 43.5h1M32 43.5h1M35 43.5h1M36 43.5h1M0 44.5h1M2 44.5h1M3 44.5h1M5 44.5h1M8 44.5h1M12 44.5h1M27 44.5h1M32 44.5h1M33 44.5h1M34 44.5h1M1 45.5h1M2 45.5h1M3 45.5h1M13 45.5h1M16 45.5h1M22 45.5h1M23 45.5h1M24 45.5h1M31 45.5h1M34 45.5h1M36 45.5h1M0 46.5h1M9 46.5h1M10 46.5h1M18 46.5h1M20 46.5h1M27 46.5h1M31 46.5h1M32 46.5h1M33 46.5h1M1 47.5h1M2 47.5h1M3 47.5h1M7 47.5h1M10 47.5h1M12 47.5h1M16 47.5h1M30 47.5h1M0 48.5h1M4 48.5h1M6 48.5h1M7 48.5h1M11 48.5h1M14 48.5h1M23 48.5h1M30 48.5h1M31 48.5h1M32 48.5h1M33 48.5h1M35 48.5h1M6 49.5h1M9 49.5h1M19 49.5h1M24 49.5h1M28 49.5h1M36 49.5h1M3 50.5h1M5 50.5h1M12 50.5h1M13 50.5h1M15 50.5h1M16 50.5h1M17 50.5h1M18 50.5h1M5 51.5h1M6 51.5h1M10 51.5h1M22 51.5h1M30 51.5h1M32 51.5h1M33 51.5h1M35 51.5h1M17 52.5h1M25 52.5h1M34 52.5h1"/><path stroke="#3e3e3e" d="M6 0.5h1M31 0.5h1M33 0.5h1M15 1.5h1M0 2.5h1M20 2.5h1M31 2.5h1M17 4.5h1M28 4.5h1M10 5.5h1M16 5.5h1M35 5.5h1M8 6.5h1M31 6.5h1M32 6.5h1M0 7.5h1M8 7.5h1M11 7.5h1M23 7.5h1M1 8.5h1M2 8.5h1M12 8.5h1M22 8.5h1M24 8.5h1M7 9.5h1M15 9.5h1M17 9.5h1M30 9.5h1M32 9.5h1M36 9.5h1M11 10.5h1M12 10.5h1M4 11.5h1M18 11.5h1M24 11.5h1M35 11.5h1M36 11.5h1M18 12.5h1M22 12.5h1M26 12.5h1M1 13.5h1M10 13.5h1M12 13.5h1M14 13.5h1M22 13.5h1M30 13.5h1M35 13.5h1M36 13.5h1M2 14.5h1M12 14.5h1M19 14.5h1M5 15.5h1M24 15.5h1M26 15.5h1M2 16.5h1M7 16.5h1M19 16.5h1M20 16.5h1M28 16.5h1M4 17.5h1M6 17.5h1M18 17.5h1M28 17.5h1M31 17.5h1M33 17.5h1M9 18.5h1M10 18.5h1M19 18.5h1M24 18.5h1M3 19.5h1M15 19.5h1M24 19.5h1M0 20.5h1M15 20.5h1M18 20.5h1M35 20.5h1M19 21.5h1M16 22.5h1M23 22.5h1M22 24.5h1M23 24.5h1M25 24.5h1M33 24.5h1M9 25.5h1M11 25.5h1M21 25.5h1M27 25.5h1M29 25.5h1M36 25.5h1M0 26.5h1M4 26.5h1M10 26.5h1M16 26.5h1M26 26.5h1M32 26.5h1M34 26.5h1M29 27.5h1M2 28.5h1M17 28.5h1M24 28.5h1M36 28.5h1M15 29.5h1M23 29.5h1M35 29.5h1M6 31.5h1M16 31.5h1M18 31.5h1M3 32.5h1M9 32.5h1M13 32.5h1M17 32.5h1M21 33.5h1M23 33.5h1M23 34.5h1M25 34.5h1M4 36.5h1M10 36.5h1M12 36.5h1M34 36.5h1M17 37.5h1M27 37.5h1M6 38.5h1M22 38.5h1M31 38.5h1M3 39.5h1M6 39.5h1M10 39.5h1M16 39.5h1M30 39.5h1M33 39.5h1M9 40.5h1M30 40.5h1M4 41.5h1M11 41.5h1M35 41.5h1M14 42.5h1M15 42.5h1M21 42.5h1M27 42.5h1M4 43.5h1M9 43.5h1M20 44.5h1M30 44.5h1M10 45.5h1M17 45.5h1M33 45.5h1M3 46.5h1M29 46.5h1M0 47.5h1M9 47.5h1M11 47.5h1M14 47.5h1M27 47.5h1M28 47.5h1M8 48.5h1M12 48.5h1M17 48.5h1M25 48.5h1M1 49.5h1M7 49.5h1M10 49.5h1M33 49.5h1M32 50.5h1M35 50.5h1M36 50.5h1M12 51.5h1M19 51.5h1M20 51.5h1M28 51.5h1M31 51.5h1M34 51.5h1M36 51.5h1M1 52.5h1"/><path stroke="#484848" d="M19 0.5h1M18 2.5h1M29 5.5h1M26 8.5h1M7 11.5h1M22 15.5h1M28 20.5h1M7 25.5h1M32 25.5h1M1 26.5h1M23 26.5h1M5 27.5h1M16 28.5h1M1 29.5h1M23 32.5h1M20 34.5h1M16 35.5h1M33 35.5h1M32 36.5h1M20 37.5h1M30 38.5h1M25 41.5h1M28 43.5h1M6 44.5h1M19 48.5h1M20 49.5h1M3 51.5h1M17 51.5h1"/></pattern>
<pattern id="pLight" width="37" height="53" patternUnits="userSpaceOnUse" ><rect width="37" height="53" fill="#cccccc"/><path stroke="#a4a4a4" d="M0 0.5h1M2 1.5h1M27 1.5h1M32 1.5h1M3 2.5h1M32 6.5h1M34 6.5h1M19 9.5h1M17 10.5h1M0 13.5h1M5 15.5h1M19 16.5h1M26 17.5h1M29 18.5h1M33 18.5h1M19 19.5h1M23 19.5h1M28 20.5h1M29 20.5h1M9 21.5h1M11 21.5h1M20 21.5h1M5 22.5h1M21 23.5h1M33 23.5h1M9 24.5h1M17 25.5h1M5 30.5h1M35 30.5h1M18 32.5h1M16 33.5h1M8 34.5h1M27 36.5h1M34 38.5h1M11 39.5h1M1 49.5h1"/><path stroke="#b1b1b1" d="M1 0.5h1M7 0.5h1M12 0.5h1M13 0.5h1M15 0.5h1M21 0.5h1M22 0.5h1M26 0.5h1M10 1.5h1M14 1.5h1M25 1.5h1M29 1.5h1M7 2.5h1M9 2.5h1M20 2.5h1M12 3.5h1M21 4.5h1M26 4.5h1M6 5.5h1M8 5.5h1M24 6.5h1M19 7.5h1M27 7.5h1M35 7.5h1M1 8.5h1M17 8.5h1M25 8.5h1M36 8.5h1M6 9.5h1M10 9.5h1M26 9.5h1M10 10.5h1M13 10.5h1M25 10.5h1M36 11.5h1M5 12.5h1M18 12.5h1M26 12.5h1M27 12.5h1M35 12.5h1M32 13.5h1M2 14.5h1M4 15.5h1M9 15.5h1M29 15.5h1M35 15.5h1M36 15.5h1M3 16.5h1M21 16.5h1M33 16.5h1M2 17.5h1M10 17.5h1M0 18.5h1M4 18.5h1M16 18.5h1M20 18.5h1M3 19.5h1M14 19.5h1M15 19.5h1M22 19.5h1M28 19.5h1M3 20.5h1M8 20.5h1M9 20.5h1M13 20.5h1M15 20.5h1M25 20.5h1M32 21.5h1M2 22.5h1M9 22.5h1M10 22.5h1M12 22.5h1M24 22.5h1M1 23.5h1M18 23.5h1M20 23.5h1M28 23.5h1M34 23.5h1M3 24.5h1M10 24.5h1M28 24.5h1M13 25.5h1M15 25.5h1M28 25.5h1M8 26.5h1M23 26.5h1M30 26.5h1M0 27.5h1M1 27.5h1M3 27.5h1M28 27.5h1M29 27.5h1M19 28.5h1M22 28.5h1M36 28.5h1M21 29.5h1M3 30.5h1M16 30.5h1M18 30.5h1M12 31.5h1M13 31.5h1M19 31.5h1M5 32.5h1M2 33.5h1M7 34.5h1M9 34.5h1M16 34.5h1M30 35.5h1M3 36.5h1M4 36.5h1M26 36.5h1M33 36.5h1M2 37.5h1M4 37.5h1M16 37.5h1M20 38.5h1M31 38.5h1M4 39.5h1M29 39.5h1M17 40.5h1M22 40.5h1M9 41.5h1M15 41.5h1M19 41.5h1M21 41.5h1M4 42.5h1M34 42.5h1M22 43.5h1M33 43.5h1M14 44.5h1M21 44.5h1M23 44.5h1M24 44.5h1M5 45.5h1M12 45.5h1M19 45.5h1M27 45.5h1M13 46.5h1M18 46.5h1M26 46.5h1M36 46.5h1M5 47.5h1M16 47.5h1M31 47.5h1M17 48.5h1M18 48.5h1M26 48.5h1M33 49.5h1M18 50.5h1M5 51.5h1M20 51.5h1M34 51.5h1M7 52.5h1"/><path stroke="#bebebe" d="M6 0.5h1M8 0.5h1M10 0.5h1M17 0.5h1M20 0.5h1M30 0.5h1M0 1.5h1M4 1.5h1M11 1.5h1M16 1.5h1M19 1.5h1M21 1.5h1M28 1.5h1M31 1.5h1M35 1.5h1M2 2.5h1M6 2.5h1M18 2.5h1M19 2.5h1M21 2.5h1M2 3.5h1M4 3.5h1M10 3.5h1M14 3.5h1M19 3.5h1M20 3.5h1M22 3.5h1M27 3.5h1M28 3.5h1M35 3.5h1M4 4.5h1M11 4.5h1M14 4.5h1M16 4.5h1M17 4.5h1M20 4.5h1M24 4.5h1M30 4.5h1M36 4.5h1M2 5.5h1M12 5.5h1M16 5.5h1M20 5.5h1M23 5.5h1M33 5.5h1M34 5.5h1M1 6.5h1M4 6.5h1M5 6.5h1M9 6.5h1M11 6.5h1M20 6.5h1M25 6.5h1M26 6.5h1M36 6.5h1M0 7.5h1M2 7.5h1M7 7.5h1M9 7.5h1M20 7.5h1M33 7.5h1M34 7.5h1M0 8.5h1M13 8.5h1M14 8.5h1M18 8.5h1M19 8.5h1M22 8.5h1M23 8.5h1M30 8.5h1M33 8.5h1M3 9.5h1M4 9.5h1M5 9.5h1M9 9.5h1M12 9.5h1M14 9.5h1M22 9.5h1M24 9.5h1M25 9.5h1M33 9.5h1M1 10.5h1M2 10.5h1M4 10.5h1M9 10.5h1M14 10.5h1M15 10.5h1M16 10.5h1M23 10.5h1M26 10.5h1M31 10.5h1M9 11.5h1M11 11.5h1M13 11.5h1M19 11.5h1M20 11.5h1M24 11.5h1M25 11.5h1M28 11.5h1M32 11.5h1M34 11.5h1M8 12.5h1M9 12.5h1M14 12.5h1M15 12.5h1M24 12.5h1M25 12.5h1M31 12.5h1M36 12.5h1M2 13.5h1M3 13.5h1M9 13.5h1M12 13.5h1M13 13.5h1M17 13.5h1M20 13.5h1M22 13.5h1M25 13.5h1M28 13.5h1M29 13.5h1M33 13.5h1M36 13.5h1M10 14.5h1M11 14.5h1M15 14.5h1M23 14.5h1M29 14.5h1M32 14.5h1M7 15.5h1M8 15.5h1M12 15.5h1M24 15.5h1M32 15.5h1M6 16.5h1M12 16.5h1M15 16.5h1M23 16.5h1M24 16.5h1M25 16.5h1M27 16.5h1M28 16.5h1M31 16.5h1M0 17.5h1M1 17.5h1M5 17.5h1M7 17.5h1M18 17.5h1M22 17.5h1M23 17.5h1M27 17.5h1M30 17.5h1M32 17.5h1M33 17.5h1M35 17.5h1M1 18.5h1M2 18.5h1M7 18.5h1M8 18.5h1M23 18.5h1M27 18.5h1M30 18.5h1M32 18.5h1M36 18.5h1M10 19.5h1M12 19.5h1M25 19.5h1M27 19.5h1M29 19.5h1M33 19.5h1M35 19.5h1M6 20.5h1M30 20.5h1M36 20.5h1M0 21.5h1M5 21.5h1M13 21.5h1M15 21.5h1M19 21.5h1M21 21.5h1M23 21.5h1M26 21.5h1M33 21.5h1M36 21.5h1M0 22.5h1M3 22.5h1M11 22.5h1M14 22.5h1M19 22.5h1M22 22.5h1M26 22.5h1M29 22.5h1M30 22.5h1M32 22.5h1M35 22.5h1M36 22.5h1M3 23.5h1M5 23.5h1M22 23.5h1M25 23.5h1M32 23.5h1M8 24.5h1M12 24.5h1M17 24.5h1M19 24.5h1M22 24.5h1M30 24.5h1M31 24.5h1M33 24.5h1M34 24.5h1M0 25.5h1M2 25.5h1M5 25.5h1M10 25.5h1M16 25.5h1M20 25.5h1M21 25.5h1M22 25.5h1M23 25.5h1M26 25.5h1M31 25.5h1M0 26.5h1M5 26.5h1M9 26.5h1M10 26.5h1M11 26.5h1M15 26.5h1M19 26.5h1M21 26.5h1M27 26.5h1M28 26.5h1M29 26.5h1M33 26.5h1M34 26.5h1M5 27.5h1M8 27.5h1M14 27.5h1M15 27.5h1M16 27.5h1M25 27.5h1M34 27.5h1M3 28.5h1M5 28.5h1M9 28.5h1M12 28.5h1M13 28.5h1M15 28.5h1M21 28.5h1M25 28.5h1M28 28.5h1M32 28.5h1M0 29.5h1M1 29.5h1M4 29.5h1M6 29.5h1M11 29.5h1M17 29.5h1M18 29.5h1M20 29.5h1M23 29.5h1M24 29.5h1M26 29.5h1M27 29.5h1M29 29.5h1M35 29.5h1M0 30.5h1M4 30.5h1M19 30.5h1M28 30.5h1M3 31.5h1M6 31.5h1M10 31.5h1M20 31.5h1M23 31.5h1M24 31.5h1M25 31.5h1M29 31.5h1M32 31.5h1M34 31.5h1M0 32.5h1M3 32.5h1M4 32.5h1M6 32.5h1M9 32.5h1M16 32.5h1M25 32.5h1M26 32.5h1M31 32.5h1M3 33.5h1M5 33.5h1M6 33.5h1M15 33.5h1M20 33.5h1M21 33.5h1M23 33.5h1M31 33.5h1M33 33.5h1M34 33.5h1M36 33.5h1M1 34.5h1M2 34.5h1M4 34.5h1M6 34.5h1M13 34.5h1M17 34.5h1M18 34.5h1M20 34.5h1M22 34.5h1M29 34.5h1M33 34.5h1M34 34.5h1M1 35.5h1M6 35.5h1M8 35.5h1M15 35.5h1M17 35.5h1M19 35.5h1M23 35.5h1M26 35.5h1M27 35.5h1M32 35.5h1M35 35.5h1M2 36.5h1M8 36.5h1M10 36.5h1M13 36.5h1M16 36.5h1M17 36.5h1M18 36.5h1M19 36.5h1M29 36.5h1M34 36.5h1M1 37.5h1M5 37.5h1M7 37.5h1M11 37.5h1M14 37.5h1M17 37.5h1M20 37.5h1M23 37.5h1M25 37.5h1M26 37.5h1M31 37.5h1M33 37.5h1M35 37.5h1M36 37.5h1M2 38.5h1M3 38.5h1M8 38.5h1M9 38.5h1M12 38.5h1M14 38.5h1M15 38.5h1M5 39.5h1M8 39.5h1M19 39.5h1M21 39.5h1M24 39.5h1M27 39.5h1M33 39.5h1M35 39.5h1M36 39.5h1M6 40.5h1M8 40.5h1M10 40.5h1M14 40.5h1M16 40.5h1M18 40.5h1M24 40.5h1M30 40.5h1M31 40.5h1M32 40.5h1M0 41.5h1M2 41.5h1M3 41.5h1M5 41.5h1M7 41.5h1M13 41.5h1M14 41.5h1M16 41.5h1M17 41.5h1M22 41.5h1M23 41.5h1M32 41.5h1M34 41.5h1M36 41.5h1M1 42.5h1M6 42.5h1M7 42.5h1M9 42.5h1M11 42.5h1M23 42.5h1M27 42.5h1M29 42.5h1M31 42.5h1M35 42.5h1M0 43.5h1M2 43.5h1M4 43.5h1M10 43.5h1M12 43.5h1M17 43.5h1M23 43.5h1M25 43.5h1M27 43.5h1M28 43.5h1M29 43.5h1M32 43.5h1M0 44.5h1M4 44.5h1M5 44.5h1M6 44.5h1M15 44.5h1M19 44.5h1M22 44.5h1M30 44.5h1M34 44.5h1M3 45.5h1M13 45.5h1M16 45.5h1M18 45.5h1M20 45.5h1M21 45.5h1M26 45.5h1M28 45.5h1M0 46.5h1M4 46.5h1M7 46.5h1M12 46.5h1M20 46.5h1M24 46.5h1M29 46.5h1M33 46.5h1M34 46.5h1M35 46.5h1M9 47.5h1M10 47.5h1M12 47.5h1M19 47.5h1M20 47.5h1M23 47.5h1M28 47.5h1M30 47.5h1M32 47.5h1M2 48.5h1M4 48.5h1M6 48.5h1M8 48.5h1M12 48.5h1M16 48.5h1M25 48.5h1M30 48.5h1M33 48.5h1M3 49.5h1M9 49.5h1M21 49.5h1M24 49.5h1M30 49.5h1M34 49.5h1M0 50.5h1M1 50.5h1M3 50.5h1M4 50.5h1M6 50.5h1M8 50.5h1M9 50.5h1M14 50.5h1M20 50.5h1M23 50.5h1M30 50.5h1M31 50.5h1M35 50.5h1M3 51.5h1M4 51.5h1M11 51.5h1M12 51.5h1M17 51.5h1M19 51.5h1M21 51.5h1M22 51.5h1M23 51.5h1M24 51.5h1M32 51.5h1M36 51.5h1M1 52.5h1M3 52.5h1M9 52.5h1M12 52.5h1M20 52.5h1M26 52.5h1"/><path stroke="#d9d9d9" d="M4 0.5h1M11 0.5h1M23 0.5h1M24 0.5h1M27 0.5h1M29 0.5h1M31 0.5h1M32 0.5h1M33 0.5h1M6 1.5h1M7 1.5h1M18 1.5h1M22 1.5h1M23 1.5h1M30 1.5h1M33 1.5h1M0 2.5h1M4 2.5h1M5 2.5h1M11 2.5h1M15 2.5h1M27 2.5h1M28 2.5h1M29 2.5h1M0 3.5h1M5 3.5h1M11 3.5h1M15 3.5h1M17 3.5h1M25 3.5h1M36 3.5h1M0 4.5h1M3 4.5h1M9 4.5h1M13 4.5h1M15 4.5h1M33 4.5h1M0 5.5h1M1 5.5h1M3 5.5h1M11 5.5h1M14 5.5h1M15 5.5h1M17 5.5h1M19 5.5h1M29 5.5h1M35 5.5h1M3 6.5h1M6 6.5h1M10 6.5h1M12 6.5h1M22 6.5h1M27 6.5h1M31 6.5h1M3 7.5h1M8 7.5h1M10 7.5h1M11 7.5h1M13 7.5h1M18 7.5h1M21 7.5h1M22 7.5h1M26 7.5h1M32 7.5h1M36 7.5h1M2 8.5h1M4 8.5h1M7 8.5h1M11 8.5h1M15 8.5h1M16 8.5h1M20 8.5h1M21 8.5h1M24 8.5h1M26 8.5h1M29 8.5h1M35 8.5h1M2 9.5h1M7 9.5h1M16 9.5h1M17 9.5h1M21 9.5h1M27 9.5h1M28 9.5h1M30 9.5h1M31 9.5h1M34 9.5h1M35 9.5h1M36 9.5h1M0 10.5h1M3 10.5h1M18 10.5h1M21 10.5h1M22 10.5h1M24 10.5h1M28 10.5h1M34 10.5h1M36 10.5h1M7 11.5h1M10 11.5h1M12 11.5h1M27 11.5h1M29 11.5h1M35 11.5h1M0 12.5h1M1 12.5h1M2 12.5h1M4 12.5h1M7 12.5h1M10 12.5h1M11 12.5h1M17 12.5h1M23 12.5h1M29 12.5h1M33 12.5h1M6 13.5h1M15 13.5h1M16 13.5h1M23 13.5h1M24 13.5h1M30 13.5h1M34 13.5h1M8 14.5h1M9 14.5h1M13 14.5h1M16 14.5h1M17 14.5h1M20 14.5h1M26 14.5h1M27 14.5h1M30 14.5h1M34 14.5h1M35 14.5h1M36 14.5h1M6 15.5h1M13 15.5h1M16 15.5h1M18 15.5h1M20 15.5h1M21 15.5h1M23 15.5h1M25 15.5h1M28 15.5h1M30 15.5h1M31 15.5h1M0 16.5h1M2 16.5h1M5 16.5h1M7 16.5h1M13 16.5h1M18 16.5h1M32 16.5h1M4 17.5h1M12 17.5h1M14 17.5h1M25 17.5h1M29 17.5h1M5 18.5h1M9 18.5h1M17 18.5h1M35 18.5h1M1 19.5h1M2 19.5h1M11 19.5h1M30 19.5h1M32 19.5h1M34 19.5h1M0 20.5h1M5 20.5h1M20 20.5h1M24 20.5h1M26 20.5h1M27 20.5h1M33 20.5h1M34 20.5h1M35 20.5h1M2 21.5h1M3 21.5h1M6 21.5h1M7 21.5h1M8 21.5h1M10 21.5h1M22 21.5h1M24 21.5h1M27 21.5h1M31 21.5h1M34 21.5h1M35 21.5h1M6 22.5h1M7 22.5h1M8 22.5h1M17 22.5h1M20 22.5h1M27 22.5h1M33 22.5h1M0 23.5h1M7 23.5h1M9 23.5h1M12 23.5h1M13 23.5h1M14 23.5h1M15 23.5h1M24 23.5h1M31 23.5h1M4 24.5h1M6 24.5h1M7 24.5h1M15 24.5h1M21 24.5h1M24 24.5h1M25 24.5h1M29 24.5h1M32 24.5h1M35 24.5h1M1 25.5h1M4 25.5h1M6 25.5h1M14 25.5h1M24 25.5h1M27 25.5h1M35 25.5h1M6 26.5h1M17 26.5h1M18 26.5h1M24 26.5h1M25 26.5h1M35 26.5h1M36 26.5h1M2 27.5h1M11 27.5h1M19 27.5h1M22 27.5h1M32 27.5h1M35 27.5h1M36 27.5h1M1 28.5h1M2 28.5h1M6 28.5h1M8 28.5h1M14 28.5h1M18 28.5h1M23 28.5h1M26 28.5h1M31 28.5h1M35 28.5h1M3 29.5h1M7 29.5h1M8 29.5h1M9 29.5h1M13 29.5h1M15 29.5h1M16 29.5h1M25 29.5h1M28 29.5h1M2 30.5h1M10 30.5h1M12 30.5h1M17 30.5h1M20 30.5h1M22 30.5h1M30 30.5h1M0 31.5h1M2 31.5h1M4 31.5h1M16 31.5h1M18 31.5h1M21 31.5h1M22 31.5h1M26 31.5h1M35 31.5h1M36 31.5h1M1 32.5h1M8 32.5h1M12 32.5h1M13 32.5h1M14 32.5h1M15 32.5h1M21 32.5h1M23 32.5h1M28 32.5h1M30 32.5h1M32 32.5h1M33 32.5h1M34 32.5h1M35 32.5h1M12 33.5h1M18 33.5h1M22 33.5h1M25 33.5h1M26 33.5h1M29 33.5h1M30 33.5h1M11 34.5h1M21 34.5h1M27 34.5h1M28 34.5h1M30 34.5h1M35 34.5h1M3 35.5h1M7 35.5h1M11 35.5h1M14 35.5h1M18 35.5h1M22 35.5h1M1 36.5h1M7 36.5h1M9 36.5h1M24 36.5h1M32 36.5h1M0 37.5h1M3 37.5h1M10 37.5h1M13 37.5h1M27 37.5h1M32 37.5h1M4 38.5h1M6 38.5h1M16 38.5h1M17 38.5h1M19 38.5h1M30 38.5h1M36 38.5h1M12 39.5h1M13 39.5h1M14 39.5h1M20 39.5h1M25 39.5h1M31 39.5h1M34 39.5h1M2 40.5h1M4 40.5h1M5 40.5h1M11 40.5h1M12 40.5h1M23 40.5h1M25 40.5h1M26 40.5h1M34 40.5h1M11 41.5h1M12 41.5h1M20 41.5h1M24 41.5h1M0 42.5h1M5 42.5h1M8 42.5h1M10 42.5h1M12 42.5h1M18 42.5h1M19 42.5h1M24 42.5h1M33 42.5h1M5 43.5h1M14 43.5h1M15 43.5h1M24 43.5h1M31 43.5h1M35 43.5h1M2 44.5h1M3 44.5h1M7 44.5h1M9 44.5h1M20 44.5h1M25 44.5h1M26 44.5h1M28 44.5h1M29 44.5h1M36 44.5h1M0 45.5h1M1 45.5h1M2 45.5h1M22 45.5h1M24 45.5h1M30 45.5h1M34 45.5h1M36 45.5h1M3 46.5h1M11 46.5h1M14 46.5h1M19 46.5h1M21 46.5h1M23 46.5h1M27 46.5h1M28 46.5h1M30 46.5h1M31 46.5h1M32 46.5h1M11 47.5h1M13 47.5h1M14 47.5h1M21 47.5h1M24 47.5h1M26 47.5h1M33 47.5h1M34 47.5h1M36 47.5h1M3 48.5h1M5 48.5h1M10 48.5h1M14 48.5h1M19 48.5h1M21 48.5h1M22 48.5h1M24 48.5h1M27 48.5h1M29 48.5h1M2 49.5h1M7 49.5h1M11 49.5h1M13 49.5h1M14 49.5h1M15 49.5h1M19 49.5h1M23 49.5h1M26 49.5h1M31 49.5h1M13 50.5h1M16 50.5h1M17 50.5h1M21 50.5h1M22 50.5h1M34 50.5h1M0 51.5h1M2 51.5h1M7 51.5h1M8 51.5h1M9 51.5h1M10 51.5h1M13 51.5h1M15 51.5h1M18 51.5h1M25 51.5h1M29 51.5h1M0 52.5h1M5 52.5h1M6 52.5h1M8 52.5h1M11 52.5h1M16 52.5h1M23 52.5h1M32 52.5h1"/><path stroke="#e6e6e6" d="M16 0.5h1M34 0.5h1M36 0.5h1M1 1.5h1M9 1.5h1M12 1.5h1M17 1.5h1M20 1.5h1M12 2.5h1M16 2.5h1M30 2.5h1M33 2.5h1M31 3.5h1M33 3.5h1M34 3.5h1M1 4.5h1M7 4.5h1M7 5.5h1M26 5.5h1M7 6.5h1M8 6.5h1M15 6.5h1M23 6.5h1M14 7.5h1M15 7.5h1M23 7.5h1M24 7.5h1M12 8.5h1M28 8.5h1M1 9.5h1M13 9.5h1M20 9.5h1M11 10.5h1M19 10.5h1M35 10.5h1M2 11.5h1M5 11.5h1M6 11.5h1M22 11.5h1M3 12.5h1M20 12.5h1M4 13.5h1M5 13.5h1M11 13.5h1M12 14.5h1M19 14.5h1M31 14.5h1M2 15.5h1M3 15.5h1M15 15.5h1M26 15.5h1M33 15.5h1M14 16.5h1M36 16.5h1M3 17.5h1M8 17.5h1M28 17.5h1M31 17.5h1M34 17.5h1M10 18.5h1M12 18.5h1M13 18.5h1M14 18.5h1M25 18.5h1M0 19.5h1M5 19.5h1M6 19.5h1M7 19.5h1M16 19.5h1M21 19.5h1M11 20.5h1M17 20.5h1M31 20.5h1M28 21.5h1M13 22.5h1M18 22.5h1M25 22.5h1M28 22.5h1M2 23.5h1M6 23.5h1M8 23.5h1M11 23.5h1M19 23.5h1M23 23.5h1M23 24.5h1M36 24.5h1M7 25.5h1M11 25.5h1M18 25.5h1M25 25.5h1M29 25.5h1M32 25.5h1M34 25.5h1M36 25.5h1M4 26.5h1M7 26.5h1M31 26.5h1M4 27.5h1M18 27.5h1M21 27.5h1M30 27.5h1M10 28.5h1M16 28.5h1M17 28.5h1M27 28.5h1M19 29.5h1M22 29.5h1M6 30.5h1M23 30.5h1M24 30.5h1M25 30.5h1M27 30.5h1M34 30.5h1M36 30.5h1M7 31.5h1M14 31.5h1M24 32.5h1M0 34.5h1M10 34.5h1M19 34.5h1M26 34.5h1M31 34.5h1M2 35.5h1M5 35.5h1M9 35.5h1M11 36.5h1M15 36.5h1M15 37.5h1M21 37.5h1M22 37.5h1M34 37.5h1M0 38.5h1M5 38.5h1M13 38.5h1M21 38.5h1M23 38.5h1M25 38.5h1M27 38.5h1M33 38.5h1M2 39.5h1M10 39.5h1M30 39.5h1M32 39.5h1M9 40.5h1M21 40.5h1M28 40.5h1M35 40.5h1M25 41.5h1M22 42.5h1M28 42.5h1M32 42.5h1M8 43.5h1M19 43.5h1M26 43.5h1M36 43.5h1M1 44.5h1M10 44.5h1M13 44.5h1M33 44.5h1M23 45.5h1M29 45.5h1M5 46.5h1M16 46.5h1M2 47.5h1M6 47.5h1M18 47.5h1M0 48.5h1M32 48.5h1M35 48.5h1M4 49.5h1M10 49.5h1M11 50.5h1M12 50.5h1M29 50.5h1M32 50.5h1M36 50.5h1M27 51.5h1M35 51.5h1M17 52.5h1M19 52.5h1M21 52.5h1M28 52.5h1M36 52.5h1"/><path stroke="#f4f4f4" d="M25 0.5h1M36 1.5h1M28 6.5h1M6 7.5h1M6 8.5h1M35 13.5h1M6 14.5h1M18 14.5h1M14 15.5h1M11 16.5h1M17 16.5h1M28 18.5h1M11 24.5h1M16 24.5h1M19 25.5h1M32 26.5h1M24 28.5h1M5 29.5h1M30 29.5h1M32 29.5h1M5 31.5h1M27 33.5h1M23 34.5h1M34 35.5h1M8 37.5h1M12 37.5h1M22 38.5h1M31 41.5h1M2 42.5h1M21 42.5h1M6 43.5h1M7 45.5h1M22 46.5h1M35 47.5h1M24 50.5h1M26 50.5h1M26 51.5h1"/></pattern>
<pattern id="pLmid" width="37" height="16" patternUnits="userSpaceOnUse" ><rect width="37" height="16" fill="#b2b2b2"/><path stroke="#808080" d="M36 0.5h1M30 1.5h1M16 2.5h1M36 2.5h1M25 3.5h1M31 3.5h1M22 4.5h1M25 4.5h1M29 7.5h1M12 9.5h1M34 13.5h1M23 14.5h1"/><path stroke="#909090" d="M14 0.5h1M15 0.5h1M23 0.5h1M13 1.5h1M20 1.5h1M32 1.5h1M35 1.5h1M13 2.5h1M32 2.5h1M7 3.5h1M13 3.5h1M2 4.5h1M7 4.5h1M1 5.5h1M7 5.5h1M17 5.5h1M18 5.5h1M19 5.5h1M23 5.5h1M27 5.5h1M0 6.5h1M22 6.5h1M30 6.5h1M31 6.5h1M16 7.5h1M22 7.5h1M12 8.5h1M13 8.5h1M27 8.5h1M29 9.5h1M30 9.5h1M16 10.5h1M23 10.5h1M32 10.5h1M4 11.5h1M18 11.5h1M29 11.5h1M30 11.5h1M34 11.5h1M6 12.5h1M20 12.5h1M29 12.5h1M11 13.5h1M30 13.5h1M9 14.5h1M10 14.5h1M17 14.5h1M19 14.5h1M28 14.5h1M34 14.5h1M0 15.5h1M4 15.5h1M6 15.5h1M21 15.5h1M26 15.5h1"/><path stroke="#a1a1a1" d="M1 0.5h1M2 0.5h1M16 0.5h1M24 0.5h1M25 0.5h1M26 0.5h1M28 0.5h1M29 0.5h1M32 0.5h1M35 0.5h1M0 1.5h1M1 1.5h1M3 1.5h1M4 1.5h1M7 1.5h1M11 1.5h1M12 1.5h1M16 1.5h1M19 1.5h1M22 1.5h1M23 1.5h1M1 2.5h1M3 2.5h1M4 2.5h1M5 2.5h1M15 2.5h1M18 2.5h1M21 2.5h1M25 2.5h1M27 2.5h1M3 3.5h1M10 3.5h1M14 3.5h1M17 3.5h1M19 3.5h1M22 3.5h1M26 3.5h1M27 3.5h1M28 3.5h1M29 3.5h1M30 3.5h1M1 4.5h1M9 4.5h1M12 4.5h1M15 4.5h1M17 4.5h1M29 4.5h1M4 5.5h1M11 5.5h1M24 5.5h1M26 5.5h1M28 5.5h1M35 5.5h1M36 5.5h1M4 6.5h1M8 6.5h1M10 6.5h1M21 6.5h1M23 6.5h1M1 7.5h1M5 7.5h1M6 7.5h1M9 7.5h1M10 7.5h1M13 7.5h1M25 7.5h1M30 7.5h1M31 7.5h1M32 7.5h1M34 7.5h1M0 8.5h1M2 8.5h1M6 8.5h1M8 8.5h1M17 8.5h1M22 8.5h1M25 8.5h1M28 8.5h1M30 8.5h1M35 8.5h1M36 8.5h1M2 9.5h1M6 9.5h1M7 9.5h1M8 9.5h1M10 9.5h1M14 9.5h1M18 9.5h1M21 9.5h1M23 9.5h1M24 9.5h1M28 9.5h1M33 9.5h1M0 10.5h1M5 10.5h1M6 10.5h1M7 10.5h1M12 10.5h1M14 10.5h1M17 10.5h1M18 10.5h1M19 10.5h1M34 10.5h1M0 11.5h1M2 11.5h1M5 11.5h1M12 11.5h1M15 11.5h1M19 11.5h1M23 11.5h1M33 11.5h1M0 12.5h1M21 12.5h1M24 12.5h1M36 12.5h1M6 13.5h1M7 13.5h1M12 13.5h1M15 13.5h1M16 13.5h1M23 13.5h1M29 13.5h1M5 14.5h1M8 14.5h1M14 14.5h1M22 14.5h1M24 14.5h1M35 14.5h1M14 15.5h1M15 15.5h1M20 15.5h1M25 15.5h1M27 15.5h1"/><path stroke="#c2c2c2" d="M0 0.5h1M4 0.5h1M5 0.5h1M13 0.5h1M17 0.5h1M18 0.5h1M20 0.5h1M21 0.5h1M31 0.5h1M33 0.5h1M34 0.5h1M8 1.5h1M9 1.5h1M21 1.5h1M24 1.5h1M26 1.5h1M27 1.5h1M28 1.5h1M33 1.5h1M0 2.5h1M6 2.5h1M7 2.5h1M14 2.5h1M17 2.5h1M22 2.5h1M30 2.5h1M31 2.5h1M33 2.5h1M34 2.5h1M2 3.5h1M6 3.5h1M11 3.5h1M15 3.5h1M16 3.5h1M18 3.5h1M32 3.5h1M4 4.5h1M10 4.5h1M13 4.5h1M19 4.5h1M20 4.5h1M23 4.5h1M27 4.5h1M30 4.5h1M34 4.5h1M35 4.5h1M36 4.5h1M3 5.5h1M6 5.5h1M8 5.5h1M20 5.5h1M22 5.5h1M34 5.5h1M2 6.5h1M5 6.5h1M6 6.5h1M11 6.5h1M12 6.5h1M13 6.5h1M16 6.5h1M17 6.5h1M18 6.5h1M19 6.5h1M24 6.5h1M25 6.5h1M33 6.5h1M34 6.5h1M36 6.5h1M3 7.5h1M4 7.5h1M12 7.5h1M15 7.5h1M18 7.5h1M19 7.5h1M20 7.5h1M24 7.5h1M26 7.5h1M27 7.5h1M1 8.5h1M3 8.5h1M7 8.5h1M11 8.5h1M19 8.5h1M23 8.5h1M26 8.5h1M33 8.5h1M34 8.5h1M0 9.5h1M3 9.5h1M4 9.5h1M11 9.5h1M13 9.5h1M16 9.5h1M20 9.5h1M34 9.5h1M35 9.5h1M1 10.5h1M10 10.5h1M11 10.5h1M15 10.5h1M25 10.5h1M26 10.5h1M29 10.5h1M31 10.5h1M6 11.5h1M16 11.5h1M31 11.5h1M2 12.5h1M3 12.5h1M4 12.5h1M7 12.5h1M9 12.5h1M10 12.5h1M14 12.5h1M17 12.5h1M25 12.5h1M28 12.5h1M30 12.5h1M35 12.5h1M1 13.5h1M5 13.5h1M9 13.5h1M27 13.5h1M28 13.5h1M32 13.5h1M36 13.5h1M1 14.5h1M3 14.5h1M11 14.5h1M12 14.5h1M15 14.5h1M21 14.5h1M31 14.5h1M1 15.5h1M3 15.5h1M5 15.5h1M9 15.5h1M10 15.5h1M13 15.5h1M24 15.5h1M30 15.5h1M32 15.5h1"/><path stroke="#d3d3d3" d="M7 0.5h1M9 0.5h1M10 0.5h1M11 0.5h1M22 0.5h1M27 0.5h1M2 1.5h1M31 1.5h1M29 2.5h1M35 2.5h1M9 3.5h1M6 4.5h1M11 4.5h1M18 4.5h1M28 4.5h1M2 5.5h1M12 5.5h1M25 5.5h1M31 5.5h1M32 5.5h1M33 5.5h1M1 6.5h1M15 6.5h1M28 6.5h1M23 7.5h1M36 7.5h1M5 8.5h1M14 8.5h1M16 8.5h1M20 8.5h1M29 8.5h1M19 9.5h1M31 9.5h1M3 10.5h1M21 10.5h1M28 10.5h1M36 10.5h1M1 11.5h1M3 11.5h1M17 11.5h1M27 11.5h1M8 12.5h1M16 12.5h1M31 12.5h1M13 13.5h1M18 13.5h1M19 13.5h1M22 13.5h1M24 13.5h1M33 13.5h1M35 13.5h1M0 14.5h1M18 14.5h1M25 14.5h1M26 14.5h1M36 14.5h1M12 15.5h1M34 15.5h1"/><path stroke="#e4e4e4" d="M18 1.5h1M5 3.5h1M9 5.5h1M8 7.5h1M5 9.5h1M23 12.5h1M20 14.5h1M2 15.5h1M16 15.5h1"/></pattern>
<pattern id="pLdark" width="37" height="16" patternUnits="userSpaceOnUse" ><rect width="37" height="16" fill="#3a3a3a"/><path stroke="#121212" d="M30 4.5h1M18 6.5h1M29 6.5h1M19 10.5h1M34 12.5h1M0 13.5h1M2 13.5h1M3 14.5h1M2 15.5h1M22 15.5h1"/><path stroke="#1f1f1f" d="M5 0.5h1M14 0.5h1M27 0.5h1M29 0.5h1M9 1.5h1M14 1.5h1M19 1.5h1M25 1.5h1M27 1.5h1M28 1.5h1M34 1.5h1M20 2.5h1M30 2.5h1M36 2.5h1M13 3.5h1M26 3.5h1M17 4.5h1M31 4.5h1M35 4.5h1M27 5.5h1M29 5.5h1M6 7.5h1M23 7.5h1M4 8.5h1M8 8.5h1M18 8.5h1M20 8.5h1M24 8.5h1M29 8.5h1M33 8.5h1M3 9.5h1M25 9.5h1M27 9.5h1M34 9.5h1M8 10.5h1M11 10.5h1M13 10.5h1M17 10.5h1M10 11.5h1M35 11.5h1M8 12.5h1M10 12.5h1M29 12.5h1M10 13.5h1M34 13.5h1M6 14.5h1M9 14.5h1M30 14.5h1M34 14.5h1M3 15.5h1M32 15.5h1"/><path stroke="#2c2c2c" d="M2 0.5h1M3 0.5h1M17 0.5h1M22 0.5h1M24 0.5h1M30 0.5h1M31 0.5h1M5 1.5h1M7 1.5h1M10 1.5h1M15 1.5h1M26 1.5h1M31 1.5h1M32 1.5h1M33 1.5h1M36 1.5h1M1 2.5h1M3 2.5h1M5 2.5h1M7 2.5h1M13 2.5h1M15 2.5h1M16 2.5h1M26 2.5h1M29 2.5h1M31 2.5h1M4 3.5h1M10 3.5h1M11 3.5h1M16 3.5h1M17 3.5h1M21 3.5h1M24 3.5h1M30 3.5h1M36 3.5h1M1 4.5h1M2 4.5h1M5 4.5h1M7 4.5h1M10 4.5h1M23 4.5h1M26 4.5h1M27 4.5h1M0 5.5h1M4 5.5h1M6 5.5h1M10 5.5h1M15 5.5h1M20 5.5h1M28 5.5h1M0 6.5h1M1 6.5h1M11 6.5h1M12 6.5h1M14 6.5h1M19 6.5h1M20 6.5h1M33 6.5h1M34 6.5h1M35 6.5h1M4 7.5h1M7 7.5h1M9 7.5h1M17 7.5h1M18 7.5h1M21 7.5h1M22 7.5h1M24 7.5h1M26 7.5h1M27 7.5h1M30 7.5h1M32 7.5h1M34 7.5h1M1 8.5h1M6 8.5h1M13 8.5h1M15 8.5h1M17 8.5h1M25 8.5h1M31 8.5h1M36 8.5h1M1 9.5h1M4 9.5h1M9 9.5h1M15 9.5h1M16 9.5h1M18 9.5h1M24 9.5h1M33 9.5h1M2 10.5h1M3 10.5h1M5 10.5h1M9 10.5h1M15 10.5h1M16 10.5h1M18 10.5h1M20 10.5h1M24 10.5h1M26 10.5h1M27 10.5h1M30 10.5h1M5 11.5h1M6 11.5h1M8 11.5h1M13 11.5h1M28 11.5h1M30 11.5h1M31 11.5h1M32 11.5h1M33 11.5h1M0 12.5h1M1 12.5h1M5 12.5h1M6 12.5h1M11 12.5h1M19 12.5h1M23 12.5h1M30 12.5h1M3 13.5h1M8 13.5h1M11 13.5h1M13 13.5h1M20 13.5h1M29 13.5h1M0 14.5h1M1 14.5h1M8 14.5h1M10 14.5h1M15 14.5h1M18 14.5h1M21 14.5h1M22 14.5h1M26 14.5h1M0 15.5h1M7 15.5h1M12 15.5h1M17 15.5h1M19 15.5h1M26 15.5h1M27 15.5h1M31 15.5h1M34 15.5h1M35 15.5h1"/><path stroke="#474747" d="M0 0.5h1M1 0.5h1M7 0.5h1M10 0.5h1M13 0.5h1M19 0.5h1M20 0.5h1M23 0.5h1M26 0.5h1M33 0.5h1M35 0.5h1M1 1.5h1M4 1.5h1M6 1.5h1M13 1.5h1M16 1.5h1M17 1.5h1M18 1.5h1M20 1.5h1M23 1.5h1M2 2.5h1M4 2.5h1M6 2.5h1M8 2.5h1M9 2.5h1M14 2.5h1M22 2.5h1M28 2.5h1M0 3.5h1M1 3.5h1M7 3.5h1M9 3.5h1M23 3.5h1M27 3.5h1M28 3.5h1M32 3.5h1M0 4.5h1M3 4.5h1M9 4.5h1M15 4.5h1M16 4.5h1M18 4.5h1M20 4.5h1M21 4.5h1M22 4.5h1M24 4.5h1M32 4.5h1M1 5.5h1M5 5.5h1M9 5.5h1M16 5.5h1M18 5.5h1M23 5.5h1M25 5.5h1M26 5.5h1M32 5.5h1M35 5.5h1M36 5.5h1M7 6.5h1M13 6.5h1M15 6.5h1M17 6.5h1M22 6.5h1M28 6.5h1M30 6.5h1M32 6.5h1M3 7.5h1M8 7.5h1M11 7.5h1M12 7.5h1M14 7.5h1M15 7.5h1M29 7.5h1M33 7.5h1M9 8.5h1M10 8.5h1M12 8.5h1M14 8.5h1M19 8.5h1M22 8.5h1M26 8.5h1M27 8.5h1M30 8.5h1M32 8.5h1M35 8.5h1M2 9.5h1M10 9.5h1M14 9.5h1M19 9.5h1M21 9.5h1M22 9.5h1M26 9.5h1M30 9.5h1M36 9.5h1M0 10.5h1M4 10.5h1M29 10.5h1M33 10.5h1M35 10.5h1M36 10.5h1M1 11.5h1M16 11.5h1M17 11.5h1M18 11.5h1M19 11.5h1M22 11.5h1M3 12.5h1M9 12.5h1M15 12.5h1M17 12.5h1M20 12.5h1M22 12.5h1M26 12.5h1M27 12.5h1M31 12.5h1M32 12.5h1M35 12.5h1M6 13.5h1M16 13.5h1M18 13.5h1M21 13.5h1M35 13.5h1M7 14.5h1M11 14.5h1M13 14.5h1M17 14.5h1M20 14.5h1M23 14.5h1M9 15.5h1M10 15.5h1M13 15.5h1M14 15.5h1M15 15.5h1M20 15.5h1M21 15.5h1M23 15.5h1M25 15.5h1M28 15.5h1M29 15.5h1M36 15.5h1"/><path stroke="#545454" d="M6 0.5h1M11 0.5h1M12 0.5h1M15 0.5h1M11 1.5h1M30 1.5h1M11 2.5h1M19 2.5h1M25 2.5h1M34 2.5h1M35 2.5h1M2 3.5h1M6 3.5h1M8 3.5h1M12 3.5h1M29 3.5h1M8 4.5h1M12 4.5h1M14 4.5h1M2 5.5h1M3 5.5h1M11 5.5h1M19 5.5h1M3 6.5h1M24 6.5h1M25 6.5h1M10 7.5h1M19 7.5h1M2 8.5h1M3 8.5h1M11 8.5h1M28 8.5h1M7 9.5h1M20 9.5h1M1 10.5h1M10 10.5h1M14 10.5h1M28 10.5h1M31 10.5h1M4 11.5h1M9 11.5h1M12 11.5h1M20 11.5h1M7 12.5h1M14 12.5h1M21 12.5h1M24 12.5h1M12 13.5h1M15 13.5h1M23 13.5h1M32 13.5h1M12 14.5h1M28 14.5h1M29 14.5h1M24 15.5h1"/><path stroke="#626262" d="M9 0.5h1M19 3.5h1M31 3.5h1M34 4.5h1M23 6.5h1M6 10.5h1M21 10.5h1M11 11.5h1M28 12.5h1M1 13.5h1M36 13.5h1"/></pattern>
<pattern id="pLlight" width="37" height="16" patternUnits="userSpaceOnUse" ><rect width="37" height="16" fill="#d6d6d6"/><path stroke="#b3b3b3" d="M20 1.5h1M27 2.5h1M30 2.5h1M9 4.5h1M5 7.5h1M11 8.5h1M27 8.5h1M35 10.5h1M12 13.5h1M23 14.5h1"/><path stroke="#bebebe" d="M1 0.5h1M16 0.5h1M24 0.5h1M25 1.5h1M29 1.5h1M10 2.5h1M16 2.5h1M26 2.5h1M28 2.5h1M10 3.5h1M13 3.5h1M17 3.5h1M27 3.5h1M1 4.5h1M2 4.5h1M11 4.5h1M13 4.5h1M12 5.5h1M25 5.5h1M33 5.5h1M34 5.5h1M11 6.5h1M9 7.5h1M23 7.5h1M17 8.5h1M35 8.5h1M19 9.5h1M34 9.5h1M7 10.5h1M8 10.5h1M4 11.5h1M33 11.5h1M1 12.5h1M2 12.5h1M15 12.5h1M16 12.5h1M4 13.5h1M8 13.5h1M13 13.5h1M18 13.5h1M0 14.5h1M9 14.5h1M14 14.5h1M21 14.5h1M5 15.5h1M21 15.5h1"/><path stroke="#cacaca" d="M2 0.5h1M7 0.5h1M8 0.5h1M15 0.5h1M26 0.5h1M33 0.5h1M34 0.5h1M36 0.5h1M2 1.5h1M3 1.5h1M8 1.5h1M15 1.5h1M17 1.5h1M18 1.5h1M23 1.5h1M30 1.5h1M31 1.5h1M36 1.5h1M4 2.5h1M12 2.5h1M17 2.5h1M34 2.5h1M2 3.5h1M7 3.5h1M9 3.5h1M12 3.5h1M14 3.5h1M18 3.5h1M31 3.5h1M34 3.5h1M12 4.5h1M14 4.5h1M33 4.5h1M35 4.5h1M3 5.5h1M7 5.5h1M16 5.5h1M17 5.5h1M18 5.5h1M19 5.5h1M2 6.5h1M6 6.5h1M9 6.5h1M10 6.5h1M14 6.5h1M15 6.5h1M22 6.5h1M25 6.5h1M26 6.5h1M29 6.5h1M30 6.5h1M35 6.5h1M2 7.5h1M7 7.5h1M11 7.5h1M13 7.5h1M14 7.5h1M15 7.5h1M20 7.5h1M22 7.5h1M27 7.5h1M28 7.5h1M29 7.5h1M34 7.5h1M5 8.5h1M7 8.5h1M12 8.5h1M15 8.5h1M23 8.5h1M28 8.5h1M29 8.5h1M30 8.5h1M32 8.5h1M2 9.5h1M4 9.5h1M6 9.5h1M9 9.5h1M21 9.5h1M23 9.5h1M25 9.5h1M27 9.5h1M35 9.5h1M1 10.5h1M6 10.5h1M17 10.5h1M18 10.5h1M19 10.5h1M22 10.5h1M23 10.5h1M26 10.5h1M29 10.5h1M1 11.5h1M13 11.5h1M17 11.5h1M26 11.5h1M30 11.5h1M8 12.5h1M26 12.5h1M29 12.5h1M30 12.5h1M32 12.5h1M3 13.5h1M6 13.5h1M9 13.5h1M10 13.5h1M15 13.5h1M16 13.5h1M17 13.5h1M22 13.5h1M25 13.5h1M26 13.5h1M27 13.5h1M30 13.5h1M33 13.5h1M34 13.5h1M8 14.5h1M22 14.5h1M24 14.5h1M25 14.5h1M30 14.5h1M35 14.5h1M1 15.5h1M6 15.5h1M7 15.5h1M11 15.5h1M15 15.5h1M19 15.5h1M20 15.5h1M25 15.5h1M36 15.5h1"/><path stroke="#e1e1e1" d="M0 0.5h1M6 0.5h1M11 0.5h1M13 0.5h1M18 0.5h1M22 0.5h1M29 0.5h1M31 0.5h1M35 0.5h1M0 1.5h1M6 1.5h1M21 1.5h1M28 1.5h1M0 2.5h1M2 2.5h1M5 2.5h1M7 2.5h1M8 2.5h1M9 2.5h1M13 2.5h1M15 2.5h1M23 2.5h1M36 2.5h1M4 3.5h1M11 3.5h1M19 3.5h1M23 3.5h1M25 3.5h1M28 3.5h1M30 3.5h1M35 3.5h1M36 3.5h1M4 4.5h1M8 4.5h1M28 4.5h1M32 4.5h1M34 4.5h1M36 4.5h1M4 5.5h1M6 5.5h1M8 5.5h1M14 5.5h1M15 5.5h1M27 5.5h1M28 5.5h1M29 5.5h1M30 5.5h1M32 5.5h1M7 6.5h1M8 6.5h1M18 6.5h1M19 6.5h1M20 6.5h1M21 6.5h1M23 6.5h1M27 6.5h1M32 6.5h1M0 7.5h1M3 7.5h1M30 7.5h1M0 8.5h1M3 8.5h1M4 8.5h1M6 8.5h1M14 8.5h1M19 8.5h1M22 8.5h1M24 8.5h1M25 8.5h1M31 8.5h1M34 8.5h1M1 9.5h1M3 9.5h1M7 9.5h1M8 9.5h1M11 9.5h1M12 9.5h1M14 9.5h1M16 9.5h1M17 9.5h1M22 9.5h1M24 9.5h1M26 9.5h1M29 9.5h1M32 9.5h1M36 9.5h1M0 10.5h1M12 10.5h1M14 10.5h1M15 10.5h1M16 10.5h1M30 10.5h1M33 10.5h1M0 11.5h1M2 11.5h1M3 11.5h1M7 11.5h1M14 11.5h1M16 11.5h1M20 11.5h1M21 11.5h1M22 11.5h1M28 11.5h1M29 11.5h1M32 11.5h1M36 11.5h1M6 12.5h1M11 12.5h1M12 12.5h1M13 12.5h1M14 12.5h1M19 12.5h1M24 12.5h1M25 12.5h1M33 12.5h1M34 12.5h1M0 13.5h1M1 13.5h1M11 13.5h1M20 13.5h1M23 13.5h1M24 13.5h1M29 13.5h1M35 13.5h1M36 13.5h1M1 14.5h1M4 14.5h1M10 14.5h1M11 14.5h1M12 14.5h1M18 14.5h1M28 14.5h1M29 14.5h1M31 14.5h1M33 14.5h1M8 15.5h1M10 15.5h1M12 15.5h1M14 15.5h1M16 15.5h1M22 15.5h1M23 15.5h1M26 15.5h1M30 15.5h1M31 15.5h1"/><path stroke="#ededed" d="M3 0.5h1M10 0.5h1M25 0.5h1M5 1.5h1M9 1.5h1M13 1.5h1M22 1.5h1M3 2.5h1M15 3.5h1M24 3.5h1M29 3.5h1M33 3.5h1M0 4.5h1M17 4.5h1M22 4.5h1M0 5.5h1M9 5.5h1M22 5.5h1M24 5.5h1M26 5.5h1M31 5.5h1M35 5.5h1M0 6.5h1M31 6.5h1M34 6.5h1M4 7.5h1M17 7.5h1M19 7.5h1M16 8.5h1M0 9.5h1M15 9.5h1M33 9.5h1M9 10.5h1M11 10.5h1M24 10.5h1M32 10.5h1M3 12.5h1M5 12.5h1M9 12.5h1M22 12.5h1M23 12.5h1M5 13.5h1M3 14.5h1M5 14.5h1M19 14.5h1M34 14.5h1M0 15.5h1M17 15.5h1M18 15.5h1M27 15.5h1M32 15.5h1"/><path stroke="#f9f9f9" d="M33 1.5h1M1 2.5h1M10 7.5h1M24 7.5h1M33 8.5h1M5 9.5h1M4 10.5h1M25 10.5h1"/></pattern>
<linearGradient id="gM" x1="0" x2="1" y1="0" y2="0"><stop offset="0" stop-color="#2a2a2a"/><stop offset="0.27" stop-color="#343434"/><stop offset="0.4" stop-color="#626262"/><stop offset="1" stop-color="#727272"/></linearGradient>
<pattern id="pMott" width="24" height="24" x="402" patternUnits="userSpaceOnUse"><rect width="24" height="24" fill="url(#gM)"/>
<path stroke="#222" stroke-opacity="0.5" d="M1 0.5h1M3 0.5h1M8 0.5h1M13 0.5h1M15 0.5h1M4 1.5h1M7 1.5h1M13 1.5h1M17 1.5h1M23 1.5h1M1 2.5h1M10 2.5h1M12 2.5h1M16 2.5h1M7 3.5h1M13 3.5h1M3 4.5h1M5 4.5h1M12 4.5h1M15 4.5h1M1 5.5h1M5 5.5h1M6 5.5h1M11 5.5h1M13 5.5h1M16 5.5h1M4 6.5h1M11 6.5h1M12 6.5h1M14 6.5h1M3 7.5h1M4 7.5h1M8 7.5h1M10 7.5h1M12 7.5h1M14 7.5h1M0 8.5h1M1 8.5h1M5 8.5h1M23 8.5h1M0 9.5h1M1 9.5h1M2 9.5h1M3 9.5h1M9 9.5h1M10 9.5h1M20 9.5h1M1 10.5h1M9 10.5h1M17 10.5h1M18 10.5h1M1 11.5h1M4 11.5h1M16 11.5h1M21 11.5h1M2 12.5h1M3 12.5h1M6 12.5h1M13 12.5h1M18 12.5h1M1 13.5h1M3 13.5h1M5 13.5h1M6 13.5h1M7 13.5h1M13 13.5h1M17 13.5h1M22 13.5h1M2 14.5h1M5 15.5h1M6 15.5h1M8 15.5h1M10 15.5h1M13 15.5h1M1 16.5h1M7 16.5h1M8 16.5h1M12 16.5h1M17 16.5h1M8 17.5h1M14 17.5h1M16 17.5h1M19 17.5h1M22 17.5h1M4 18.5h1M7 18.5h1M14 18.5h1M15 18.5h1M18 18.5h1M8 19.5h1M10 19.5h1M16 19.5h1M19 19.5h1M21 19.5h1M23 19.5h1M0 20.5h1M2 20.5h1M9 20.5h1M14 20.5h1M17 20.5h1M23 20.5h1M8 21.5h1M11 21.5h1M19 21.5h1M8 22.5h1M11 22.5h1M18 22.5h1M1 23.5h1"/><path stroke="#aaa" stroke-opacity="0.45" d="M0 0.5h1M20 0.5h1M0 1.5h1M3 1.5h1M8 1.5h1M10 1.5h1M12 1.5h1M2 2.5h1M8 2.5h1M11 2.5h1M18 2.5h1M23 2.5h1M4 3.5h1M6 3.5h1M14 3.5h1M18 3.5h1M19 3.5h1M21 3.5h1M1 4.5h1M4 4.5h1M9 4.5h1M10 4.5h1M18 4.5h1M0 5.5h1M8 5.5h1M5 6.5h1M6 6.5h1M9 6.5h1M13 6.5h1M16 6.5h1M17 6.5h1M0 7.5h1M15 7.5h1M22 7.5h1M3 8.5h1M7 8.5h1M9 8.5h1M11 8.5h1M13 8.5h1M17 8.5h1M5 9.5h1M7 9.5h1M8 9.5h1M13 9.5h1M21 9.5h1M23 9.5h1M4 10.5h1M5 10.5h1M7 10.5h1M8 10.5h1M3 11.5h1M8 11.5h1M10 11.5h1M12 11.5h1M15 11.5h1M20 11.5h1M22 11.5h1M0 12.5h1M9 12.5h1M16 12.5h1M17 12.5h1M21 12.5h1M0 13.5h1M20 13.5h1M0 14.5h1M7 14.5h1M9 14.5h1M14 14.5h1M18 14.5h1M0 15.5h1M12 15.5h1M6 16.5h1M18 16.5h1M22 16.5h1M0 17.5h1M2 17.5h1M5 17.5h1M10 17.5h1M13 17.5h1M15 17.5h1M20 17.5h1M23 17.5h1M2 18.5h1M9 18.5h1M20 18.5h1M2 19.5h1M4 19.5h1M11 19.5h1M14 19.5h1M18 19.5h1M1 20.5h1M4 20.5h1M15 20.5h1M16 20.5h1M19 20.5h1M3 21.5h1M9 21.5h1M15 21.5h1M21 21.5h1M23 21.5h1M0 22.5h1M1 22.5h1M3 22.5h1M6 22.5h1M15 22.5h1M21 22.5h1M3 23.5h1M17 23.5h1M18 23.5h1"/>
</pattern>
</defs>
<rect width="520" height="782" fill="#fff"/>
<rect x="122.0" y="318.22" width="24" height="8.68" fill="#0a0a0a"/>
<path d="M134.9 318.22V300.86M129.7 300.86H140.1" stroke="#161616" stroke-width="1.2" fill="none"/>
<rect x="146.3" y="75.89" width="23.7" height="250.99" fill="url(#pMid)" stroke="#161616" stroke-width="1.25"/>
<path d="M158.1 75.59V56.93M152.9 56.93H163.3" stroke="#161616" stroke-width="1.2" fill="none"/>
<rect x="170.3" y="171.77" width="23.7" height="155.07" fill="url(#pDark)" stroke="#161616" stroke-width="1.25"/>
<path d="M182.1 171.47V151.07M176.9 151.07H187.3" stroke="#161616" stroke-width="1.2" fill="none"/>
<rect x="194.3" y="74.96" width="23.7" height="251.85" fill="url(#pLight)" stroke="#161616" stroke-width="1.25"/>
<path d="M206.1 74.66V6.09M200.9 6.09H211.3" stroke="#161616" stroke-width="1.2" fill="none"/>
<rect x="238.0" y="321.12" width="24" height="5.64" fill="#0a0a0a"/>
<path d="M250.9 321.12V318.51M245.7 318.51H256.1" stroke="#161616" stroke-width="1.2" fill="none"/>
<rect x="262.3" y="210.29" width="23.7" height="116.45" fill="url(#pMid)" stroke="#161616" stroke-width="1.25"/>
<path d="M274.1 209.99V173.10M268.9 173.10H279.3" stroke="#161616" stroke-width="1.2" fill="none"/>
<rect x="286.3" y="242.16" width="23.7" height="84.55" fill="url(#pDark)" stroke="#161616" stroke-width="1.25"/>
<path d="M298.1 241.86V199.11M292.9 199.11H303.3" stroke="#161616" stroke-width="1.2" fill="none"/>
<rect x="310.3" y="229.54" width="23.7" height="97.13" fill="url(#pLight)" stroke="#161616" stroke-width="1.25"/>
<path d="M322.1 229.24V202.55M316.9 202.55H327.3" stroke="#161616" stroke-width="1.2" fill="none"/>
<rect x="354.0" y="320.11" width="24" height="6.51" fill="#0a0a0a"/>
<path d="M366.9 320.11V302.31M361.7 302.31H372.1" stroke="#161616" stroke-width="1.2" fill="none"/>
<rect x="378.3" y="225.77" width="23.7" height="100.82" fill="url(#pMid)" stroke="#161616" stroke-width="1.25"/>
<path d="M390.1 225.47V195.96M384.9 195.96H395.3" stroke="#161616" stroke-width="1.2" fill="none"/>
<rect x="402.3" y="279.55" width="23.7" height="47.01" fill="url(#pMott)" stroke="#161616" stroke-width="1.25"/>
<path d="M414.1 279.25V246.27M408.9 246.27H419.3" stroke="#161616" stroke-width="1.2" fill="none"/>
<rect x="426.3" y="256.09" width="23.7" height="70.44" fill="url(#pLight)" stroke="#161616" stroke-width="1.25"/>
<path d="M438.1 255.79V183.74M432.9 183.74H443.3" stroke="#161616" stroke-width="1.2" fill="none"/>
<path d="M53.70 0.5L54.1 327.0L520 326.43" stroke="#111" stroke-width="1.45" fill="none" stroke-linejoin="miter"/>
<path d="M48.80 327.0H54.10" stroke="#111" stroke-width="1.2"/>
<text x="43.5" y="331.6" text-anchor="end" class="t">0</text>
<path d="M48.75 283.6H54.05" stroke="#111" stroke-width="1.2"/>
<text x="43.5" y="288.2" text-anchor="end" class="t">10</text>
<path d="M48.69 240.2H53.99" stroke="#111" stroke-width="1.2"/>
<text x="43.5" y="244.8" text-anchor="end" class="t">20</text>
<path d="M48.64 196.8H53.94" stroke="#111" stroke-width="1.2"/>
<text x="43.5" y="201.4" text-anchor="end" class="t">30</text>
<path d="M48.59 153.4H53.89" stroke="#111" stroke-width="1.2"/>
<text x="43.5" y="158.0" text-anchor="end" class="t">40</text>
<path d="M48.53 110.0H53.83" stroke="#111" stroke-width="1.2"/>
<text x="43.5" y="114.6" text-anchor="end" class="t">50</text>
<path d="M48.48 66.6H53.78" stroke="#111" stroke-width="1.2"/>
<text x="43.5" y="71.2" text-anchor="end" class="t">60</text>
<path d="M48.43 23.2H53.73" stroke="#111" stroke-width="1.2"/>
<text x="43.5" y="27.8" text-anchor="end" class="t">70</text>
<path d="M170 326.86V331.86" stroke="#111" stroke-width="1.1"/>
<path d="M286 326.72V331.72" stroke="#111" stroke-width="1.1"/>
<path d="M402 326.57V331.57" stroke="#111" stroke-width="1.1"/>
<rect x="122.0" y="711.96" width="24" height="18.12" fill="#0a0a0a"/>
<path d="M134.9 711.96V673.41M129.7 673.41H140.1" stroke="#161616" stroke-width="1.2" fill="none"/>
<rect x="146.3" y="566.81" width="23.7" height="163.20" fill="url(#pMid)" stroke="#161616" stroke-width="1.25"/>
<path d="M158.1 566.51V543.28M152.9 543.28H163.3" stroke="#161616" stroke-width="1.2" fill="none"/>
<rect x="170.3" y="727.46" width="23.7" height="2.49" fill="#161616" stroke="#161616" stroke-width="1.25"/>
<path d="M182.1 727.16V723.44M176.9 723.44H187.3" stroke="#161616" stroke-width="1.2" fill="none"/>
<rect x="194.3" y="604.76" width="23.7" height="125.11" fill="url(#pLight)" stroke="#161616" stroke-width="1.25"/>
<path d="M206.1 604.46V545.01M200.9 545.01H211.3" stroke="#161616" stroke-width="1.2" fill="none"/>
<rect x="238.0" y="717.68" width="24" height="12.08" fill="#0a0a0a"/>
<path d="M250.9 717.68V713.59M245.7 713.59H256.1" stroke="#161616" stroke-width="1.2" fill="none"/>
<rect x="262.3" y="510.56" width="23.7" height="219.13" fill="url(#pMid)" stroke="#161616" stroke-width="1.25"/>
<path d="M274.1 510.26V452.66M268.9 452.66H279.3" stroke="#161616" stroke-width="1.2" fill="none"/>
<rect x="310.3" y="637.70" width="23.7" height="91.86" fill="url(#pLight)" stroke="#161616" stroke-width="1.25"/>
<path d="M322.1 637.40V587.23M316.9 587.23H327.3" stroke="#161616" stroke-width="1.2" fill="none"/>
<rect x="354.0" y="716.42" width="24" height="13.01" fill="#0a0a0a"/>
<path d="M366.9 716.42V678.33M361.7 678.33H372.1" stroke="#161616" stroke-width="1.2" fill="none"/>
<rect x="378.3" y="683.96" width="23.7" height="45.41" fill="url(#pMid)" stroke="#161616" stroke-width="1.25"/>
<path d="M390.1 683.66V652.26M384.9 652.26H395.3" stroke="#161616" stroke-width="1.2" fill="none"/>
<path d="M414.1 729.30V698.82M408.9 698.82H419.3" stroke="#161616" stroke-width="1.2" fill="none"/>
<path d="M438.1 729.23V725.51M432.9 725.51H443.3" stroke="#161616" stroke-width="1.2" fill="none"/>
<path d="M53.39 404.2L54.3 730.3L520 729.00" stroke="#111" stroke-width="1.35" fill="none" stroke-linejoin="miter"/>
<path d="M49.50 730.3H54.30" stroke="#111" stroke-width="1.2"/>
<text x="43.5" y="734.9" text-anchor="end" class="t">0</text>
<path d="M49.24 637.4H54.04" stroke="#111" stroke-width="1.2"/>
<text x="43.5" y="642.0" text-anchor="end" class="t">10</text>
<path d="M48.98 544.5H53.78" stroke="#111" stroke-width="1.2"/>
<text x="43.5" y="549.1" text-anchor="end" class="t">20</text>
<path d="M48.72 451.6H53.52" stroke="#111" stroke-width="1.2"/>
<text x="43.5" y="456.2" text-anchor="end" class="t">30</text>
<path d="M170 729.98V734.98" stroke="#111" stroke-width="1.1"/>
<path d="M286 729.65V734.65" stroke="#111" stroke-width="1.1"/>
<path d="M402 729.33V734.33" stroke="#111" stroke-width="1.1"/>
<text x="170.2" y="348.8" text-anchor="middle" class="t" style="word-spacing:-0.9px">25 to 1</text>
<text x="286.2" y="348.8" text-anchor="middle" class="t" style="word-spacing:-0.9px">5 to 1</text>
<text x="402.2" y="348.6" text-anchor="middle" class="t" style="word-spacing:-0.9px">1 to 1</text>
<text x="170.2" y="752.2" text-anchor="middle" class="t" style="word-spacing:-0.9px">25 to 1</text>
<text x="286.2" y="752.0" text-anchor="middle" class="t" style="word-spacing:-0.9px">5 to 1</text>
<text x="402.2" y="751.8" text-anchor="middle" class="t" style="word-spacing:-0.9px">1 to 1</text>
<text x="0.8" y="18.8" class="p">A</text>
<text x="-0.8" y="421.5" class="p">B</text>
<text transform="translate(14.8,164.5) rotate(-90)" text-anchor="middle" class="ax">% lysis</text>
<text transform="translate(14.8,568.2) rotate(-90)" text-anchor="middle" class="ax">% lysis</text>
<text x="286.7" y="377.1" text-anchor="middle" class="ax">E:T ratio</text>
<text x="287.2" y="779.6" text-anchor="middle" class="ax">E:T ratio</text>
<rect x="278.8" y="12.7" width="31" height="10" fill="#0a0a0a"/>
<text x="316.6" y="21.6" class="l">EL-4 WT1 negative</text>
<rect x="279.5" y="29.400000000000002" width="29.6" height="8.6" fill="url(#pLmid)" stroke="#161616" stroke-width="1.4"/>
<text x="316.6" y="37.8" class="l">TRAMP-C WT1 positive</text>
<rect x="279.5" y="45.300000000000004" width="29.6" height="8.6" fill="url(#pLdark)" stroke="#161616" stroke-width="1.4"/>
<text x="316.6" y="53.9" class="l">TRAMP-C + p117 cold target</text>
<rect x="279.5" y="61.400000000000006" width="29.6" height="8.6" fill="url(#pLlight)" stroke="#161616" stroke-width="1.4"/>
<text x="316.6" y="70.0" class="l">TRAMP-C + irrelevant cold target</text>
<rect x="291.8" y="407.5" width="31" height="10" fill="#0a0a0a"/>
<text x="329.3" y="416.5" class="l">EL-4 WT1 negative</text>
<rect x="292.5" y="424.59999999999997" width="29.6" height="8.6" fill="url(#pLmid)" stroke="#161616" stroke-width="1.4"/>
<text x="329.3" y="432.5" class="l">BLKSV40 WT1 positive</text>
<rect x="292.5" y="440.7" width="29.6" height="8.6" fill="url(#pLdark)" stroke="#161616" stroke-width="1.4"/>
<text x="329.3" y="448.5" class="l">BLKSV40 + p117 cold target</text>
<rect x="292.5" y="456.8" width="29.6" height="8.6" fill="url(#pLlight)" stroke="#161616" stroke-width="1.4"/>
<text x="329.3" y="464.6" class="l">BLKSV40 + irrelevant cold target</text>
</svg></body></html>
